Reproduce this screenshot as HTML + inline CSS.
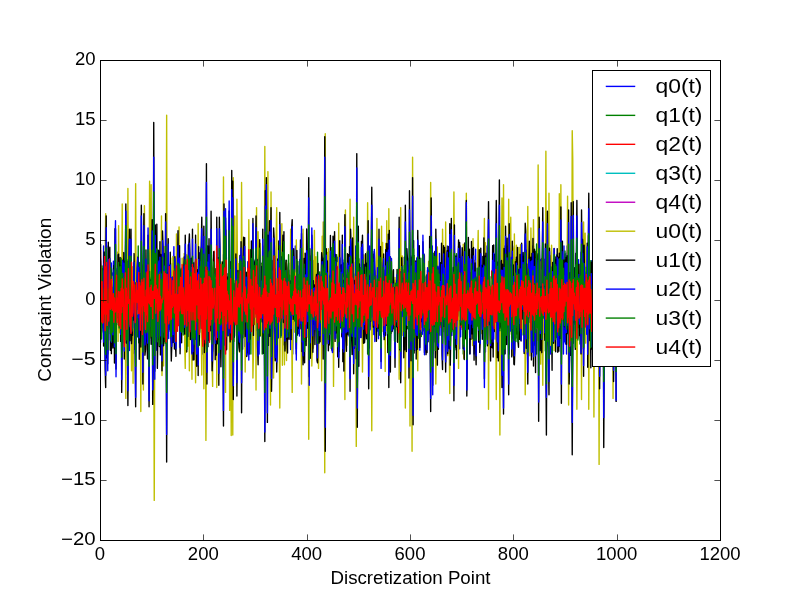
<!DOCTYPE html>
<html><head><meta charset="utf-8"><style>
html,body{margin:0;padding:0;background:#fff;width:800px;height:600px;overflow:hidden}
svg{display:block;will-change:transform}
text{font-family:"Liberation Sans",sans-serif;fill:#000}
</style></head><body>
<svg width="800" height="600" viewBox="0 0 800 600">
<rect width="800" height="600" fill="#fff"/>
<defs><clipPath id="ax"><rect x="100" y="60" width="620" height="480"/></clipPath></defs>
<g clip-path="url(#ax)" fill="none" stroke-width="1.39" stroke-linejoin="round">
<polyline points="100.00,249.13 100.52,342.40 101.03,295.34 101.55,305.41 102.07,291.79 102.58,303.29 103.10,327.92 103.62,246.00 104.13,321.24 104.65,311.80 105.17,295.41 105.68,281.12 106.20,303.40 106.72,309.69 107.23,289.23 107.75,354.00 108.27,246.00 108.78,319.55 109.30,309.72 109.82,304.89 110.33,280.14 110.85,332.61 111.37,263.04 111.88,319.88 112.40,273.07 112.92,344.84 113.43,261.31 113.95,315.10 114.47,313.17 114.98,256.70 115.50,302.51 116.02,336.68 116.53,288.59 117.05,268.44 117.57,324.52 118.08,313.10 118.60,305.88 119.12,296.89 119.63,275.78 120.15,293.84 120.67,323.45 121.18,312.00 121.70,295.87 122.22,318.09 122.73,259.52 123.25,308.54 123.77,280.39 124.28,278.86 124.80,316.46 125.32,331.61 125.83,298.74 126.35,317.66 126.87,314.00 127.38,246.00 127.90,329.31 128.42,332.43 128.93,259.93 129.45,350.54 129.97,266.17 130.48,294.10 131.00,313.82 131.52,297.82 132.03,276.39 132.55,323.75 133.07,269.81 133.58,353.21 134.10,274.99 134.62,261.57 135.13,349.51 135.65,299.76 136.17,281.39 136.68,308.71 137.20,287.37 137.72,286.22 138.23,307.97 138.75,306.41 139.27,310.96 139.78,288.94 140.30,287.14 140.82,332.72 141.33,291.70 141.85,312.69 142.37,279.64 142.88,296.97 143.40,312.78 143.92,310.06 144.43,293.76 144.95,274.20 145.47,322.18 145.98,274.51 146.50,326.16 147.02,302.69 147.53,272.03 148.05,328.58 148.57,264.88 149.08,354.00 149.60,259.86 150.12,309.82 150.63,297.46 151.15,288.01 151.67,340.87 152.18,246.00 152.70,346.63 153.22,247.15 153.73,329.62 154.25,311.15 154.77,332.21 155.28,246.00 155.80,319.37 156.32,290.13 156.83,350.29 157.35,303.85 157.87,274.91 158.38,283.17 158.90,295.10 159.42,292.20 159.93,338.44 160.45,308.63 160.97,261.71 161.48,332.00 162.00,282.59 162.52,261.29 163.03,345.44 163.55,285.25 164.07,302.07 164.58,304.67 165.10,293.05 165.62,297.77 166.13,308.09 166.65,273.20 167.17,310.53 167.68,335.74 168.20,254.97 168.72,323.94 169.23,305.52 169.75,311.24 170.27,271.57 170.78,314.93 171.30,313.67 171.82,300.92 172.33,263.79 172.85,326.80 173.37,301.29 173.88,246.63 174.40,339.77 174.92,294.21 175.43,309.50 175.95,302.89 176.47,317.22 176.98,269.34 177.50,307.72 178.02,320.13 178.53,286.77 179.05,266.16 179.57,326.84 180.08,304.19 180.60,312.51 181.12,298.95 181.63,279.68 182.15,294.19 182.67,311.96 183.18,287.05 183.70,331.59 184.22,292.38 184.73,286.29 185.25,285.37 185.77,329.49 186.28,274.24 186.80,336.73 187.32,260.44 187.83,296.66 188.35,329.12 188.87,287.90 189.38,292.79 189.90,325.63 190.42,295.03 190.93,300.59 191.45,282.23 191.97,293.27 192.48,333.02 193.00,296.70 193.52,275.16 194.03,323.11 194.55,291.99 195.07,281.71 195.58,313.79 196.10,281.96 196.62,317.16 197.13,303.81 197.65,311.16 198.17,326.87 198.68,266.87 199.20,325.98 199.72,252.68 200.23,300.63 200.75,305.52 201.27,287.82 201.78,282.19 202.30,354.00 202.82,271.00 203.33,282.85 203.85,318.96 204.37,297.83 204.88,278.22 205.40,310.30 205.92,334.28 206.43,248.81 206.95,340.99 207.47,281.24 207.98,293.72 208.50,340.60 209.02,246.00 209.53,318.68 210.05,305.08 210.57,292.75 211.08,318.39 211.60,283.17 212.12,300.98 212.63,351.27 213.15,282.07 213.67,261.37 214.18,335.86 214.70,271.33 215.22,313.00 215.73,283.77 216.25,345.08 216.77,265.78 217.28,302.03 217.80,295.12 218.32,300.81 218.83,302.85 219.35,294.72 219.87,297.99 220.38,318.90 220.90,263.94 221.42,325.61 221.93,311.24 222.45,277.04 222.97,338.20 223.48,254.61 224.00,325.59 224.52,292.74 225.03,300.55 225.55,292.10 226.07,320.26 226.58,296.93 227.10,285.32 227.62,317.59 228.13,289.94 228.65,301.74 229.17,304.10 229.68,306.21 230.20,302.46 230.72,292.69 231.23,314.25 231.75,298.63 232.27,246.00 232.78,347.68 233.30,283.95 233.82,311.26 234.33,292.09 234.85,310.62 235.37,284.39 235.88,314.17 236.40,298.49 236.92,326.77 237.43,260.90 237.95,320.94 238.47,296.82 238.98,292.19 239.50,302.89 240.02,304.69 240.53,277.37 241.05,337.56 241.57,320.46 242.08,269.81 242.60,334.09 243.12,263.53 243.63,274.33 244.15,295.05 244.67,346.50 245.18,273.81 245.70,328.33 246.22,272.71 246.73,281.47 247.25,335.23 247.77,261.81 248.28,322.30 248.80,257.99 249.32,354.00 249.83,305.02 250.35,260.81 250.87,307.18 251.38,305.33 251.90,324.21 252.42,283.46 252.93,311.92 253.45,263.24 253.97,316.12 254.48,322.82 255.00,302.92 255.52,311.05 256.03,284.64 256.55,289.76 257.07,292.10 257.58,288.35 258.10,327.59 258.62,269.05 259.13,354.00 259.65,265.73 260.17,286.80 260.68,320.45 261.20,286.73 261.72,289.69 262.23,324.41 262.75,286.42 263.27,283.90 263.78,340.96 264.30,258.80 264.82,322.04 265.33,323.66 265.85,267.44 266.37,294.65 266.88,315.04 267.40,290.70 267.92,297.36 268.43,307.48 268.95,298.68 269.47,287.37 269.98,301.20 270.50,313.81 271.02,332.70 271.53,289.98 272.05,283.93 272.57,272.82 273.08,311.46 273.60,277.27 274.12,323.32 274.63,300.68 275.15,313.26 275.67,272.49 276.18,345.88 276.70,269.74 277.22,308.67 277.73,306.85 278.25,273.77 278.77,304.86 279.28,304.84 279.80,312.75 280.32,320.19 280.83,298.11 281.35,321.33 281.87,278.83 282.38,270.56 282.90,280.61 283.42,344.78 283.93,258.12 284.45,288.25 284.97,314.04 285.48,289.24 286.00,330.86 286.52,308.24 287.03,286.21 287.55,287.58 288.07,308.91 288.58,304.86 289.10,288.96 289.62,329.96 290.13,270.20 290.65,349.55 291.17,246.00 291.68,300.55 292.20,283.01 292.72,354.00 293.23,294.02 293.75,308.27 294.27,307.68 294.78,315.64 295.30,246.00 295.82,318.11 296.33,298.47 296.85,329.82 297.37,265.10 297.88,266.24 298.40,333.55 298.92,287.80 299.43,336.07 299.95,259.55 300.47,319.98 300.98,297.29 301.50,295.61 302.02,310.98 302.53,283.21 303.05,314.25 303.57,305.85 304.08,311.60 304.60,301.42 305.12,263.64 305.63,295.96 306.15,321.33 306.67,301.53 307.18,306.91 307.70,286.37 308.22,278.07 308.73,320.36 309.25,314.49 309.77,271.18 310.28,305.37 310.80,345.86 311.32,276.20 311.83,269.04 312.35,315.34 312.87,308.10 313.38,291.36 313.90,328.67 314.42,299.89 314.93,281.06 315.45,295.72 315.97,272.93 316.48,331.13 317.00,292.52 317.52,277.53 318.03,338.68 318.55,294.20 319.07,294.38 319.58,295.77 320.10,301.92 320.62,290.32 321.13,334.32 321.65,302.29 322.17,277.79 322.68,327.88 323.20,246.00 323.72,343.04 324.23,296.04 324.75,278.98 325.27,305.06 325.78,295.60 326.30,310.85 326.82,323.29 327.33,279.27 327.85,309.10 328.37,318.50 328.88,275.07 329.40,277.50 329.92,334.03 330.43,296.64 330.95,300.40 331.47,272.78 331.98,350.62 332.50,254.66 333.02,306.62 333.53,303.71 334.05,315.11 334.57,287.95 335.08,260.41 335.60,330.97 336.12,311.20 336.63,277.77 337.15,337.62 337.67,257.18 338.18,322.20 338.70,252.57 339.22,305.30 339.73,329.38 340.25,302.88 340.77,315.08 341.28,282.26 341.80,297.31 342.32,337.87 342.83,302.66 343.35,262.98 343.87,320.14 344.38,286.89 344.90,300.81 345.42,299.23 345.93,307.36 346.45,284.48 346.97,285.18 347.48,296.60 348.00,336.01 348.52,291.39 349.03,300.60 349.55,328.63 350.07,301.01 350.58,274.30 351.10,289.48 351.62,294.45 352.13,325.86 352.65,276.46 353.17,313.93 353.68,305.87 354.20,274.25 354.72,348.41 355.23,311.11 355.75,246.00 356.27,335.60 356.78,285.07 357.30,316.01 357.82,310.70 358.33,308.33 358.85,311.76 359.37,263.90 359.88,322.47 360.40,283.18 360.92,292.84 361.43,306.32 361.95,297.19 362.47,274.79 362.98,321.61 363.50,300.80 364.02,307.39 364.53,271.03 365.05,302.77 365.57,333.76 366.08,282.43 366.60,309.46 367.12,305.41 367.63,308.36 368.15,251.22 368.67,322.52 369.18,348.10 369.70,246.00 370.22,287.21 370.73,329.69 371.25,303.23 371.77,296.13 372.28,285.97 372.80,326.75 373.32,282.82 373.83,334.45 374.35,251.72 374.87,341.53 375.38,286.44 375.90,285.91 376.42,289.11 376.93,331.24 377.45,299.35 377.97,260.54 378.48,338.68 379.00,303.38 379.52,294.41 380.03,278.55 380.55,299.61 381.07,294.41 381.58,310.52 382.10,315.18 382.62,284.35 383.13,294.48 383.65,334.45 384.17,290.36 384.68,289.32 385.20,270.01 385.72,335.12 386.23,293.23 386.75,300.36 387.27,294.06 387.78,295.03 388.30,330.06 388.82,332.88 389.33,246.00 389.85,351.94 390.37,256.59 390.88,297.99 391.40,294.70 391.92,331.61 392.43,275.18 392.95,293.77 393.47,299.66 393.98,290.01 394.50,340.53 395.02,291.44 395.53,295.53 396.05,295.86 396.57,280.71 397.08,303.41 397.60,313.08 398.12,270.25 398.63,320.65 399.15,331.82 399.67,255.70 400.18,346.92 400.70,299.45 401.22,284.68 401.73,301.00 402.25,293.51 402.77,297.96 403.28,314.42 403.80,299.07 404.32,274.55 404.83,306.84 405.35,309.44 405.87,310.65 406.38,284.76 406.90,318.39 407.42,305.63 407.93,258.20 408.45,305.74 408.97,318.64 409.48,264.85 410.00,330.76 410.52,286.27 411.03,302.85 411.55,306.71 412.07,299.73 412.58,274.64 413.10,311.02 413.62,350.10 414.13,255.62 414.65,350.52 415.17,278.90 415.68,273.20 416.20,327.62 416.72,257.89 417.23,329.03 417.75,282.70 418.27,305.33 418.78,290.86 419.30,290.63 419.82,350.14 420.33,274.60 420.85,295.41 421.37,284.80 421.88,308.83 422.40,314.91 422.92,319.69 423.43,304.33 423.95,287.60 424.47,280.21 424.98,300.41 425.50,276.83 426.02,320.70 426.53,291.25 427.05,339.18 427.57,270.44 428.08,313.55 428.60,301.71 429.12,266.76 429.63,322.76 430.15,301.23 430.67,298.48 431.18,324.48 431.70,304.95 432.22,246.00 432.73,333.34 433.25,301.18 433.77,295.82 434.28,312.24 434.80,296.89 435.32,310.54 435.83,278.34 436.35,308.88 436.87,278.50 437.38,290.58 437.90,347.44 438.42,268.38 438.93,319.77 439.45,253.43 439.97,335.33 440.48,286.08 441.00,326.50 441.52,268.38 442.03,336.08 442.55,309.23 443.07,321.67 443.58,256.88 444.10,306.38 444.62,289.51 445.13,319.82 445.65,284.02 446.17,300.14 446.68,319.11 447.20,246.00 447.72,294.57 448.23,334.96 448.75,295.10 449.27,297.91 449.78,298.80 450.30,327.43 450.82,280.35 451.33,272.63 451.85,335.56 452.37,301.49 452.88,311.88 453.40,291.06 453.92,331.64 454.43,261.40 454.95,279.79 455.47,313.49 455.98,302.84 456.50,301.93 457.02,299.93 457.53,320.11 458.05,315.10 458.57,246.00 459.08,324.30 459.60,348.86 460.12,246.00 460.63,336.73 461.15,274.87 461.67,319.68 462.18,309.60 462.70,273.06 463.22,321.54 463.73,338.44 464.25,246.00 464.77,311.75 465.28,299.70 465.80,304.56 466.32,286.51 466.83,280.29 467.35,309.12 467.87,312.62 468.38,303.84 468.90,315.20 469.42,254.15 469.93,354.00 470.45,282.83 470.97,284.87 471.48,294.52 472.00,297.51 472.52,312.30 473.03,258.13 473.55,311.86 474.07,354.00 474.58,283.20 475.10,307.50 475.62,249.28 476.13,333.81 476.65,320.42 477.17,276.98 477.68,318.39 478.20,275.44 478.72,288.18 479.23,333.48 479.75,274.90 480.27,298.47 480.78,318.78 481.30,278.01 481.82,320.84 482.33,276.02 482.85,314.47 483.37,305.60 483.88,266.11 484.40,307.74 484.92,323.54 485.43,351.94 485.95,246.00 486.47,314.11 486.98,283.59 487.50,307.32 488.02,305.40 488.53,301.20 489.05,268.01 489.57,298.33 490.08,303.54 490.60,344.64 491.12,286.16 491.63,290.15 492.15,338.66 492.67,246.00 493.18,339.46 493.70,261.97 494.22,328.30 494.73,282.60 495.25,339.16 495.77,314.63 496.28,267.87 496.80,311.52 497.32,299.18 497.83,284.76 498.35,286.23 498.87,290.42 499.38,332.11 499.90,310.28 500.42,274.93 500.93,318.10 501.45,302.74 501.97,286.13 502.48,271.27 503.00,315.38 503.52,343.56 504.03,246.00 504.55,354.00 505.07,272.71 505.58,317.53 506.10,267.53 506.62,310.11 507.13,285.60 507.65,317.62 508.17,306.94 508.68,274.94 509.20,354.00 509.72,288.43 510.23,303.11 510.75,276.54 511.27,305.80 511.78,306.63 512.30,271.09 512.82,303.49 513.33,318.50 513.85,317.13 514.37,246.00 514.88,333.23 515.40,316.57 515.92,286.33 516.43,296.39 516.95,318.14 517.47,274.22 517.98,311.29 518.50,311.15 519.02,270.28 519.53,328.64 520.05,268.09 520.57,321.13 521.08,307.08 521.60,273.72 522.12,328.37 522.63,283.02 523.15,285.38 523.67,331.45 524.18,304.22 524.70,274.81 525.22,295.92 525.73,354.00 526.25,250.24 526.77,288.59 527.28,330.84 527.80,271.45 528.32,324.28 528.83,305.96 529.35,293.88 529.87,280.62 530.38,320.32 530.90,303.32 531.42,289.32 531.93,285.85 532.45,352.16 532.97,246.00 533.48,294.16 534.00,345.30 534.52,282.17 535.03,290.47 535.55,306.27 536.07,267.53 536.58,331.83 537.10,312.85 537.62,297.11 538.13,286.43 538.65,320.00 539.17,297.33 539.68,298.55 540.20,259.40 540.72,319.21 541.23,333.07 541.75,269.36 542.27,354.00 542.78,251.08 543.30,288.56 543.82,304.79 544.33,296.35 544.85,305.99 545.37,316.12 545.88,291.44 546.40,300.67 546.92,322.37 547.43,271.79 547.95,319.20 548.47,270.09 548.98,270.10 549.50,302.28 550.02,290.82 550.53,354.00 551.05,300.59 551.57,280.00 552.08,328.39 552.60,271.75 553.12,321.98 553.63,283.70 554.15,313.17 554.67,263.80 555.18,307.70 555.70,306.26 556.22,337.56 556.73,254.95 557.25,329.69 557.77,317.26 558.28,269.53 558.80,286.41 559.32,346.58 559.83,258.33 560.35,318.45 560.87,299.37 561.38,287.27 561.90,315.23 562.42,306.14 562.93,267.78 563.45,354.00 563.97,246.00 564.48,341.93 565.00,254.09 565.52,343.98 566.03,253.11 566.55,354.00 567.07,246.00 567.58,330.02 568.10,306.56 568.62,301.85 569.13,275.46 569.65,321.96 570.17,285.47 570.68,308.42 571.20,322.91 571.72,248.96 572.23,333.89 572.75,291.56 573.27,300.63 573.78,304.37 574.30,269.23 574.82,324.14 575.33,312.01 575.85,293.63 576.37,307.18 576.88,314.72 577.40,259.12 577.92,338.25 578.43,259.77 578.95,320.69 579.47,286.61 579.98,315.50 580.50,305.15 581.02,252.28 581.53,349.07 582.05,310.17 582.57,275.01 583.08,282.38 583.60,348.94 584.12,286.39 584.63,274.51 585.15,298.52 585.67,306.78 586.18,318.05 586.70,288.35 587.22,316.60 587.73,278.96 588.25,308.22 588.77,295.00 589.28,309.05 589.80,283.23 590.32,311.94 590.83,314.61 591.35,260.59 591.87,321.54 592.38,309.32 592.90,298.06 593.42,269.89 593.93,325.55 594.45,296.18 594.97,320.27 595.48,291.55 596.00,304.43 596.52,304.94 597.03,303.88 597.55,287.14 598.07,317.37 598.58,265.36 599.10,297.51 599.62,330.28 600.13,276.59 600.65,320.36 601.17,281.66 601.68,297.98 602.20,338.26 602.72,314.32 603.23,247.12 603.75,299.99 604.27,309.36 604.78,309.56 605.30,303.11 605.82,333.76 606.33,246.00 606.85,354.00 607.37,255.60 607.88,308.05 608.40,290.70 608.92,327.85 609.43,292.97 609.95,276.96 610.47,328.31 610.98,278.34 611.50,325.25 612.02,273.21 612.53,294.68 613.05,308.03 613.57,290.83 614.08,330.59 614.60,288.81 615.12,296.81 615.63,268.34 616.15,335.73" stroke="#0000ff"/>
<polyline points="100.00,281.56 100.52,315.71 101.03,289.05 101.55,330.43 102.07,268.39 102.58,315.33 103.10,292.19 103.62,297.19 104.13,340.46 104.65,252.88 105.17,324.08 105.68,275.66 106.20,322.10 106.72,292.52 107.23,327.41 107.75,293.87 108.27,265.94 108.78,329.13 109.30,283.16 109.82,304.96 110.33,316.53 110.85,285.96 111.37,298.91 111.88,288.30 112.40,315.62 112.92,303.18 113.43,268.80 113.95,299.34 114.47,320.96 114.98,316.71 115.50,277.97 116.02,314.28 116.53,270.11 117.05,322.38 117.57,309.49 118.08,294.82 118.60,309.77 119.12,286.45 119.63,318.84 120.15,276.90 120.67,290.49 121.18,305.34 121.70,321.74 122.22,279.78 122.73,312.34 123.25,315.94 123.77,279.38 124.28,285.24 124.80,310.04 125.32,308.63 125.83,304.81 126.35,290.86 126.87,292.08 127.38,304.53 127.90,284.63 128.42,305.47 128.93,297.13 129.45,319.63 129.97,288.65 130.48,306.22 131.00,294.41 131.52,301.39 132.03,266.91 132.55,354.00 133.07,276.63 133.58,313.10 134.10,286.26 134.62,302.23 135.13,280.41 135.65,325.67 136.17,308.15 136.68,284.55 137.20,300.69 137.72,336.93 138.23,246.00 138.75,342.70 139.27,262.49 139.78,304.63 140.30,297.69 140.82,317.90 141.33,315.54 141.85,298.99 142.37,269.36 142.88,326.14 143.40,286.66 143.92,311.67 144.43,303.13 144.95,276.74 145.47,328.69 145.98,288.90 146.50,301.28 147.02,293.39 147.53,303.85 148.05,314.03 148.57,290.65 149.08,298.69 149.60,264.95 150.12,318.08 150.63,313.42 151.15,295.86 151.67,306.85 152.18,270.46 152.70,328.05 153.22,312.09 153.73,246.00 154.25,354.00 154.77,296.79 155.28,306.13 155.80,278.66 156.32,316.83 156.83,301.46 157.35,273.01 157.87,292.98 158.38,317.20 158.90,321.02 159.42,276.19 159.93,317.17 160.45,285.92 160.97,299.96 161.48,322.45 162.00,268.55 162.52,313.45 163.03,300.85 163.55,315.55 164.07,269.26 164.58,325.06 165.10,287.84 165.62,317.01 166.13,303.51 166.65,300.07 167.17,306.18 167.68,281.08 168.20,273.58 168.72,303.85 169.23,329.77 169.75,298.90 170.27,264.29 170.78,311.61 171.30,311.77 171.82,305.99 172.33,300.31 172.85,329.83 173.37,273.86 173.88,258.32 174.40,307.68 174.92,328.55 175.43,283.63 175.95,303.08 176.47,317.88 176.98,304.92 177.50,295.23 178.02,288.37 178.53,282.59 179.05,316.38 179.57,303.61 180.08,304.04 180.60,276.85 181.12,293.96 181.63,321.47 182.15,307.29 182.67,291.65 183.18,295.81 183.70,290.82 184.22,303.24 184.73,326.76 185.25,289.76 185.77,304.61 186.28,283.93 186.80,326.68 187.32,310.53 187.83,271.59 188.35,308.57 188.87,299.26 189.38,295.17 189.90,311.97 190.42,284.99 190.93,318.49 191.45,300.63 191.97,274.03 192.48,312.93 193.00,278.23 193.52,312.62 194.03,315.16 194.55,297.63 195.07,307.21 195.58,284.61 196.10,291.79 196.62,308.24 197.13,296.63 197.65,317.79 198.17,266.65 198.68,310.00 199.20,293.83 199.72,332.27 200.23,285.93 200.75,308.23 201.27,264.93 201.78,326.61 202.30,263.00 202.82,327.38 203.33,315.41 203.85,272.66 204.37,292.38 204.88,328.78 205.40,306.11 205.92,292.11 206.43,317.04 206.95,298.14 207.47,316.61 207.98,276.24 208.50,310.78 209.02,278.11 209.53,298.15 210.05,288.84 210.57,311.56 211.08,307.33 211.60,277.29 212.12,329.83 212.63,321.47 213.15,288.52 213.67,285.98 214.18,285.29 214.70,293.10 215.22,330.27 215.73,268.75 216.25,310.32 216.77,296.19 217.28,324.79 217.80,288.35 218.32,328.62 218.83,266.48 219.35,307.07 219.87,283.79 220.38,293.68 220.90,330.47 221.42,272.64 221.93,297.48 222.45,320.27 222.97,267.62 223.48,339.89 224.00,309.75 224.52,278.15 225.03,274.33 225.55,317.92 226.07,334.05 226.58,281.70 227.10,273.74 227.62,329.37 228.13,291.42 228.65,313.07 229.17,254.92 229.68,303.97 230.20,344.95 230.72,307.73 231.23,264.41 231.75,301.85 232.27,306.36 232.78,298.28 233.30,306.15 233.82,281.61 234.33,300.75 234.85,293.54 235.37,306.09 235.88,321.71 236.40,298.09 236.92,297.62 237.43,294.18 237.95,312.05 238.47,302.19 238.98,291.25 239.50,303.08 240.02,295.20 240.53,273.88 241.05,304.21 241.57,327.48 242.08,291.06 242.60,305.94 243.12,308.51 243.63,279.18 244.15,337.77 244.67,267.58 245.18,307.99 245.70,314.26 246.22,274.19 246.73,292.79 247.25,310.89 247.77,297.36 248.28,319.98 248.80,279.97 249.32,284.25 249.83,339.35 250.35,249.71 250.87,354.00 251.38,259.66 251.90,322.63 252.42,287.65 252.93,303.55 253.45,299.55 253.97,285.01 254.48,319.51 255.00,292.53 255.52,285.36 256.03,319.68 256.55,330.43 257.07,275.80 257.58,300.45 258.10,304.86 258.62,276.97 259.13,308.13 259.65,313.33 260.17,296.70 260.68,313.16 261.20,286.36 261.72,263.26 262.23,354.00 262.75,246.00 263.27,329.58 263.78,302.41 264.30,305.43 264.82,310.27 265.33,271.73 265.85,314.39 266.37,305.25 266.88,290.87 267.40,275.62 267.92,330.54 268.43,295.38 268.95,277.09 269.47,336.03 269.98,271.48 270.50,275.90 271.02,337.24 271.53,324.87 272.05,260.39 272.57,319.29 273.08,274.98 273.60,312.23 274.12,303.52 274.63,317.65 275.15,268.70 275.67,310.81 276.18,300.06 276.70,299.65 277.22,300.02 277.73,303.60 278.25,304.33 278.77,323.67 279.28,283.83 279.80,296.59 280.32,277.82 280.83,300.51 281.35,330.94 281.87,292.83 282.38,301.61 282.90,285.93 283.42,300.39 283.93,295.09 284.45,319.13 284.97,295.08 285.48,263.26 286.00,348.69 286.52,260.46 287.03,310.31 287.55,297.35 288.07,312.36 288.58,301.69 289.10,288.28 289.62,314.01 290.13,298.41 290.65,303.36 291.17,289.67 291.68,307.53 292.20,303.28 292.72,286.27 293.23,306.11 293.75,322.60 294.27,281.23 294.78,278.12 295.30,314.84 295.82,282.99 296.33,348.68 296.85,268.80 297.37,335.26 297.88,261.34 298.40,319.13 298.92,292.69 299.43,290.83 299.95,319.42 300.47,297.94 300.98,295.33 301.50,282.97 302.02,290.76 302.53,332.08 303.05,302.42 303.57,285.34 304.08,319.00 304.60,302.63 305.12,271.60 305.63,315.58 306.15,268.75 306.67,337.33 307.18,263.58 307.70,304.05 308.22,323.23 308.73,292.03 309.25,343.62 309.77,255.64 310.28,302.98 310.80,313.14 311.32,267.24 311.83,354.00 312.35,253.45 312.87,309.77 313.38,297.82 313.90,325.73 314.42,267.71 314.93,317.56 315.45,289.64 315.97,288.61 316.48,326.82 317.00,329.74 317.52,252.14 318.03,301.59 318.55,307.08 319.07,306.03 319.58,304.09 320.10,284.15 320.62,292.90 321.13,315.48 321.65,273.56 322.17,322.88 322.68,286.53 323.20,312.26 323.72,297.40 324.23,284.91 324.75,304.56 325.27,291.87 325.78,300.92 326.30,316.18 326.82,289.23 327.33,303.63 327.85,300.30 328.37,294.96 328.88,310.61 329.40,299.11 329.92,294.56 330.43,321.97 330.95,273.13 331.47,297.69 331.98,345.84 332.50,257.90 333.02,322.01 333.53,301.72 334.05,277.85 334.57,323.67 335.08,282.96 335.60,313.33 336.12,308.62 336.63,254.64 337.15,338.71 337.67,306.59 338.18,287.35 338.70,267.32 339.22,351.62 339.73,258.59 340.25,328.07 340.77,285.68 341.28,304.26 341.80,283.33 342.32,327.20 342.83,260.05 343.35,334.25 343.87,315.35 344.38,275.84 344.90,290.68 345.42,301.84 345.93,295.82 346.45,317.60 346.97,274.88 347.48,308.87 348.00,326.92 348.52,292.07 349.03,304.89 349.55,293.21 350.07,292.36 350.58,310.20 351.10,295.68 351.62,286.17 352.13,298.41 352.65,290.89 353.17,354.00 353.68,262.18 354.20,301.02 354.72,297.48 355.23,305.39 355.75,300.48 356.27,274.99 356.78,291.45 357.30,335.93 357.82,272.33 358.33,344.30 358.85,258.78 359.37,282.72 359.88,311.12 360.40,326.78 360.92,300.70 361.43,291.51 361.95,275.93 362.47,314.01 362.98,302.27 363.50,295.40 364.02,324.14 364.53,316.54 365.05,276.15 365.57,298.65 366.08,288.09 366.60,303.65 367.12,252.00 367.63,354.00 368.15,301.88 368.67,269.99 369.18,320.58 369.70,270.99 370.22,300.49 370.73,316.09 371.25,301.21 371.77,335.31 372.28,256.14 372.80,316.89 373.32,293.38 373.83,294.58 374.35,312.78 374.87,316.76 375.38,293.20 375.90,307.43 376.42,270.41 376.93,314.77 377.45,298.55 377.97,308.33 378.48,294.73 379.00,315.77 379.52,280.58 380.03,318.41 380.55,279.26 381.07,308.12 381.58,289.33 382.10,290.24 382.62,309.43 383.13,304.71 383.65,289.28 384.17,321.34 384.68,292.32 385.20,292.94 385.72,327.87 386.23,288.65 386.75,258.12 387.27,328.12 387.78,300.49 388.30,294.00 388.82,311.49 389.33,303.86 389.85,298.03 390.37,279.53 390.88,291.07 391.40,333.21 391.92,293.41 392.43,291.29 392.95,324.16 393.47,281.55 393.98,284.96 394.50,298.78 395.02,280.30 395.53,341.70 396.05,294.86 396.57,286.62 397.08,308.59 397.60,287.35 398.12,317.07 398.63,326.48 399.15,286.32 399.67,313.32 400.18,272.01 400.70,283.08 401.22,310.74 401.73,315.97 402.25,323.28 402.77,269.88 403.28,310.19 403.80,299.61 404.32,290.05 404.83,264.31 405.35,342.56 405.87,304.81 406.38,310.85 406.90,263.92 407.42,328.72 407.93,314.36 408.45,278.86 408.97,288.25 409.48,323.51 410.00,282.03 410.52,324.47 411.03,255.85 411.55,337.10 412.07,282.81 412.58,313.73 413.10,293.82 413.62,286.74 414.13,313.87 414.65,292.54 415.17,280.12 415.68,278.84 416.20,326.49 416.72,312.18 417.23,297.06 417.75,322.63 418.27,297.55 418.78,300.29 419.30,276.60 419.82,308.27 420.33,303.64 420.85,258.31 421.37,336.50 421.88,287.00 422.40,305.70 422.92,306.44 423.43,293.01 423.95,330.87 424.47,275.15 424.98,285.92 425.50,290.03 426.02,328.93 426.53,275.04 427.05,308.92 427.57,318.39 428.08,318.76 428.60,270.81 429.12,314.54 429.63,272.22 430.15,311.87 430.67,328.55 431.18,284.51 431.70,287.09 432.22,285.99 432.73,354.00 433.25,253.11 433.77,327.79 434.28,283.75 434.80,309.86 435.32,272.18 435.83,309.13 436.35,278.01 436.87,307.36 437.38,330.98 437.90,322.90 438.42,269.76 438.93,304.74 439.45,289.79 439.97,313.01 440.48,298.70 441.00,278.36 441.52,307.93 442.03,314.37 442.55,283.06 443.07,320.08 443.58,285.90 444.10,285.70 444.62,322.27 445.13,313.28 445.65,276.89 446.17,308.40 446.68,266.59 447.20,329.27 447.72,308.10 448.23,308.57 448.75,316.53 449.27,278.18 449.78,286.34 450.30,315.09 450.82,277.98 451.33,293.83 451.85,303.27 452.37,320.84 452.88,301.99 453.40,274.87 453.92,323.02 454.43,299.56 454.95,298.95 455.47,270.71 455.98,349.73 456.50,253.69 457.02,303.45 457.53,289.27 458.05,317.28 458.57,272.44 459.08,322.88 459.60,325.31 460.12,308.62 460.63,277.38 461.15,293.43 461.67,302.39 462.18,289.17 462.70,297.95 463.22,354.00 463.73,262.48 464.25,299.85 464.77,290.73 465.28,321.54 465.80,269.56 466.32,317.06 466.83,280.45 467.35,330.32 467.87,292.16 468.38,318.43 468.90,294.25 469.42,290.25 469.93,303.70 470.45,286.62 470.97,298.05 471.48,306.89 472.00,299.76 472.52,317.46 473.03,289.43 473.55,296.90 474.07,307.80 474.58,276.99 475.10,303.16 475.62,321.29 476.13,294.52 476.65,294.08 477.17,297.61 477.68,278.44 478.20,326.22 478.72,306.33 479.23,285.16 479.75,295.73 480.27,291.20 480.78,333.78 481.30,289.04 481.82,292.77 482.33,300.62 482.85,326.50 483.37,270.09 483.88,283.89 484.40,312.77 484.92,311.78 485.43,313.77 485.95,299.27 486.47,285.32 486.98,311.15 487.50,299.94 488.02,313.69 488.53,267.99 489.05,293.90 489.57,314.12 490.08,289.57 490.60,307.49 491.12,276.61 491.63,326.70 492.15,298.85 492.67,318.15 493.18,282.42 493.70,305.34 494.22,301.39 494.73,269.32 495.25,311.29 495.77,296.10 496.28,310.86 496.80,318.92 497.32,285.26 497.83,284.73 498.35,328.83 498.87,289.66 499.38,297.56 499.90,283.91 500.42,315.19 500.93,289.17 501.45,301.33 501.97,314.02 502.48,292.64 503.00,322.51 503.52,288.08 504.03,283.95 504.55,302.05 505.07,300.67 505.58,304.78 506.10,287.67 506.62,303.01 507.13,308.48 507.65,325.67 508.17,246.00 508.68,311.04 509.20,348.05 509.72,263.79 510.23,327.12 510.75,277.68 511.27,331.63 511.78,287.14 512.30,306.84 512.82,281.36 513.33,297.44 513.85,312.11 514.37,337.10 514.88,263.58 515.40,317.66 515.92,259.47 516.43,331.84 516.95,325.27 517.47,269.12 517.98,318.40 518.50,272.49 519.02,326.38 519.53,274.52 520.05,331.61 520.57,256.56 521.08,318.90 521.60,288.13 522.12,314.75 522.63,264.89 523.15,335.00 523.67,286.60 524.18,311.90 524.70,279.41 525.22,341.39 525.73,302.15 526.25,267.52 526.77,319.62 527.28,304.00 527.80,277.46 528.32,307.58 528.83,338.31 529.35,259.93 529.87,310.20 530.38,308.03 530.90,271.89 531.42,302.75 531.93,287.42 532.45,329.77 532.97,306.33 533.48,246.00 534.00,326.72 534.52,302.25 535.03,324.94 535.55,293.25 536.07,280.72 536.58,354.00 537.10,273.83 537.62,275.30 538.13,334.19 538.65,259.46 539.17,314.65 539.68,323.35 540.20,273.64 540.72,299.38 541.23,301.89 541.75,289.49 542.27,333.85 542.78,283.78 543.30,283.86 543.82,303.78 544.33,300.52 544.85,259.12 545.37,350.91 545.88,302.72 546.40,280.78 546.92,313.14 547.43,282.24 547.95,317.34 548.47,269.54 548.98,337.84 549.50,293.53 550.02,282.05 550.53,312.68 551.05,286.62 551.57,302.16 552.08,298.13 552.60,333.27 553.12,266.32 553.63,312.80 554.15,295.85 554.67,318.24 555.18,278.65 555.70,294.83 556.22,306.97 556.73,297.64 557.25,305.29 557.77,305.68 558.28,289.14 558.80,310.44 559.32,299.15 559.83,290.74 560.35,291.88 560.87,288.12 561.38,309.39 561.90,316.27 562.42,313.70 562.93,282.39 563.45,320.83 563.97,299.93 564.48,314.11 565.00,251.03 565.52,301.53 566.03,334.53 566.55,281.36 567.07,296.09 567.58,281.66 568.10,301.66 568.62,336.10 569.13,281.09 569.65,329.55 570.17,277.33 570.68,297.50 571.20,305.21 571.72,313.24 572.23,287.75 572.75,261.22 573.27,343.20 573.78,290.04 574.30,285.30 574.82,301.77 575.33,318.75 575.85,271.59 576.37,300.32 576.88,318.90 577.40,298.44 577.92,306.36 578.43,289.67 578.95,304.06 579.47,286.74 579.98,344.05 580.50,259.14 581.02,316.50 581.53,275.53 582.05,304.05 582.57,320.89 583.08,297.90 583.60,307.03 584.12,308.47 584.63,287.49 585.15,284.54 585.67,316.10 586.18,316.91 586.70,279.96 587.22,316.39 587.73,282.69 588.25,290.31 588.77,295.92 589.28,296.78 589.80,330.68 590.32,327.25 590.83,260.63 591.35,303.15 591.87,284.86 592.38,301.00 592.90,315.05 593.42,294.64 593.93,287.54 594.45,323.92 594.97,323.33 595.48,261.02 596.00,303.02 596.52,310.39 597.03,272.05 597.55,321.95 598.07,309.41 598.58,284.98 599.10,276.38 599.62,344.22 600.13,269.97 600.65,333.03 601.17,269.14 601.68,318.44 602.20,299.09 602.72,282.64 603.23,271.64 603.75,354.00 604.27,276.16 604.78,309.14 605.30,269.02 605.82,317.18 606.33,314.84 606.85,272.98 607.37,303.12 607.88,312.03 608.40,285.51 608.92,307.32 609.43,290.62 609.95,331.75 610.47,273.04 610.98,295.42 611.50,328.10 612.02,246.00 612.53,331.15 613.05,319.82 613.57,312.76 614.08,295.01 614.60,296.65 615.12,292.42 615.63,327.82 616.15,296.89" stroke="#008000"/>
<polyline points="100.00,328.55 100.52,263.91 101.03,323.17 101.55,314.10 102.07,293.96 102.58,272.22 103.10,315.74 103.62,313.60 104.13,275.08 104.65,308.26 105.17,312.37 105.68,305.28 106.20,304.56 106.72,282.90 107.23,294.86 107.75,289.17 108.27,299.49 108.78,305.88 109.30,326.67 109.82,290.43 110.33,287.92 110.85,308.48 111.37,295.97 111.88,305.99 112.40,295.20 112.92,289.08 113.43,305.36 113.95,321.10 114.47,289.43 114.98,307.55 115.50,305.22 116.02,271.73 116.53,310.86 117.05,273.21 117.57,319.16 118.08,301.67 118.60,311.10 119.12,302.37 119.63,283.68 120.15,313.86 120.67,277.54 121.18,306.23 121.70,300.02 122.22,308.44 122.73,312.06 123.25,276.81 123.77,319.31 124.28,293.74 124.80,291.41 125.32,312.41 125.83,300.86 126.35,309.76 126.87,273.70 127.38,293.01 127.90,327.91 128.42,278.06 128.93,291.51 129.45,301.60 129.97,307.82 130.48,318.49 131.00,308.54 131.52,291.62 132.03,286.96 132.55,290.09 133.07,300.95 133.58,315.47 134.10,293.86 134.62,309.35 135.13,314.95 135.65,287.56 136.17,281.25 136.68,302.98 137.20,307.27 137.72,300.94 138.23,274.83 138.75,320.31 139.27,308.27 139.78,312.15 140.30,291.61 140.82,288.77 141.33,310.10 141.85,289.00 142.37,310.65 142.88,265.06 143.40,334.17 143.92,285.50 144.43,318.12 144.95,288.66 145.47,293.60 145.98,307.33 146.50,320.94 147.02,265.59 147.53,308.46 148.05,317.66 148.57,295.26 149.08,288.13 149.60,315.79 150.12,284.49 150.63,320.83 151.15,285.00 151.67,292.49 152.18,313.51 152.70,293.89 153.22,297.33 153.73,288.33 154.25,302.66 154.77,310.76 155.28,299.48 155.80,307.13 156.32,300.30 156.83,300.85 157.35,301.21 157.87,284.61 158.38,312.28 158.90,306.63 159.42,299.81 159.93,292.19 160.45,293.91 160.97,311.35 161.48,304.81 162.00,286.88 162.52,291.65 163.03,321.61 163.55,293.65 164.07,316.00 164.58,252.84 165.10,337.92 165.62,301.79 166.13,284.17 166.65,306.46 167.17,287.83 167.68,317.61 168.20,289.61 168.72,298.85 169.23,296.49 169.75,285.43 170.27,320.75 170.78,308.72 171.30,285.98 171.82,312.67 172.33,282.05 172.85,307.08 173.37,301.68 173.88,318.41 174.40,299.65 174.92,289.84 175.43,294.07 175.95,322.02 176.47,282.80 176.98,292.30 177.50,309.09 178.02,283.17 178.53,307.40 179.05,285.70 179.57,324.61 180.08,287.43 180.60,334.91 181.12,278.94 181.63,280.80 182.15,314.82 182.67,301.16 183.18,307.70 183.70,268.33 184.22,304.47 184.73,314.20 185.25,295.98 185.77,303.81 186.28,315.13 186.80,281.21 187.32,309.55 187.83,302.71 188.35,279.48 188.87,311.53 189.38,311.55 189.90,282.83 190.42,306.39 190.93,295.85 191.45,305.02 191.97,295.26 192.48,300.34 193.00,312.89 193.52,267.07 194.03,320.30 194.55,329.78 195.07,262.12 195.58,327.01 196.10,279.64 196.62,287.24 197.13,320.22 197.65,297.96 198.17,286.03 198.68,305.97 199.20,300.86 199.72,307.75 200.23,297.61 200.75,321.28 201.27,283.87 201.78,296.88 202.30,291.76 202.82,301.45 203.33,319.64 203.85,294.26 204.37,315.95 204.88,277.53 205.40,282.02 205.92,314.54 206.43,310.36 206.95,290.29 207.47,303.34 207.98,311.59 208.50,296.43 209.02,292.46 209.53,288.89 210.05,315.41 210.57,301.01 211.08,307.82 211.60,285.34 212.12,311.39 212.63,268.55 213.15,318.65 213.67,334.60 214.18,251.25 214.70,312.11 215.22,303.75 215.73,297.58 216.25,308.60 216.77,303.25 217.28,298.23 217.80,293.63 218.32,293.98 218.83,283.12 219.35,316.90 219.87,295.12 220.38,298.24 220.90,319.19 221.42,302.06 221.93,298.74 222.45,273.79 222.97,331.76 223.48,278.69 224.00,315.23 224.52,262.93 225.03,342.72 225.55,298.71 226.07,291.95 226.58,306.81 227.10,279.48 227.62,298.10 228.13,299.52 228.65,287.66 229.17,332.89 229.68,288.02 230.20,305.94 230.72,303.74 231.23,288.16 231.75,279.97 232.27,333.65 232.78,266.07 233.30,320.44 233.82,308.46 234.33,307.73 234.85,277.78 235.37,307.67 235.88,303.32 236.40,305.02 236.92,294.93 237.43,302.41 237.95,294.49 238.47,321.67 238.98,277.12 239.50,291.90 240.02,302.01 240.53,323.52 241.05,284.11 241.57,298.00 242.08,290.61 242.60,302.82 243.12,298.39 243.63,312.83 244.15,290.92 244.67,308.75 245.18,301.99 245.70,313.72 246.22,279.43 246.73,305.80 247.25,314.83 247.77,268.55 248.28,318.67 248.80,291.50 249.32,300.50 249.83,305.81 250.35,295.68 250.87,292.31 251.38,318.43 251.90,306.05 252.42,274.14 252.93,305.54 253.45,313.83 253.97,280.32 254.48,324.56 255.00,285.68 255.52,297.40 256.03,303.55 256.55,295.12 257.07,310.35 257.58,312.35 258.10,288.75 258.62,287.25 259.13,305.72 259.65,300.97 260.17,303.06 260.68,284.51 261.20,317.56 261.72,291.37 262.23,299.85 262.75,313.26 263.27,281.11 263.78,303.88 264.30,298.42 264.82,321.16 265.33,272.44 265.85,317.08 266.37,296.21 266.88,295.22 267.40,294.74 267.92,315.59 268.43,290.62 268.95,303.25 269.47,300.64 269.98,299.88 270.50,310.22 271.02,290.20 271.53,286.52 272.05,323.72 272.57,306.75 273.08,267.24 273.60,330.12 274.12,288.82 274.63,303.17 275.15,290.83 275.67,306.52 276.18,291.02 276.70,310.17 277.22,306.83 277.73,262.16 278.25,324.63 278.77,295.73 279.28,318.93 279.80,294.16 280.32,297.53 280.83,284.16 281.35,319.40 281.87,285.84 282.38,308.62 282.90,303.84 283.42,284.88 283.93,304.56 284.45,314.35 284.97,281.77 285.48,320.91 286.00,280.69 286.52,306.42 287.03,274.80 287.55,318.58 288.07,282.60 288.58,316.64 289.10,310.50 289.62,287.99 290.13,323.71 290.65,297.24 291.17,288.05 291.68,282.37 292.20,306.49 292.72,324.65 293.23,307.52 293.75,274.79 294.27,320.06 294.78,295.30 295.30,294.85 295.82,303.75 296.33,298.58 296.85,293.32 297.37,287.18 297.88,317.42 298.40,292.55 298.92,295.66 299.43,299.42 299.95,306.40 300.47,307.06 300.98,292.74 301.50,315.05 302.02,285.06 302.53,285.60 303.05,307.14 303.57,338.69 304.08,261.73 304.60,299.89 305.12,309.73 305.63,288.86 306.15,300.31 306.67,308.71 307.18,301.14 307.70,309.83 308.22,276.38 308.73,334.96 309.25,272.16 309.77,307.93 310.28,295.35 310.80,305.17 311.32,296.24 311.83,308.71 312.35,300.57 312.87,272.08 313.38,321.52 313.90,281.78 314.42,306.29 314.93,306.10 315.45,298.83 315.97,303.74 316.48,289.28 317.00,311.38 317.52,302.98 318.03,288.72 318.55,307.29 319.07,294.23 319.58,312.41 320.10,293.83 320.62,289.21 321.13,300.05 321.65,321.83 322.17,289.55 322.68,310.27 323.20,280.19 323.72,318.50 324.23,309.13 324.75,293.18 325.27,300.39 325.78,261.94 326.30,331.65 326.82,285.76 327.33,315.88 327.85,287.93 328.37,290.93 328.88,303.34 329.40,295.50 329.92,304.26 330.43,312.42 330.95,292.34 331.47,303.75 331.98,306.79 332.50,271.95 333.02,333.10 333.53,303.24 334.05,292.02 334.57,282.64 335.08,315.93 335.60,293.04 336.12,310.37 336.63,279.39 337.15,309.40 337.67,302.58 338.18,285.74 338.70,324.00 339.22,275.54 339.73,306.47 340.25,321.86 340.77,288.99 341.28,292.92 341.80,316.58 342.32,297.63 342.83,275.94 343.35,285.87 343.87,311.86 344.38,310.88 344.90,305.07 345.42,311.73 345.93,281.26 346.45,313.65 346.97,294.06 347.48,299.02 348.00,292.40 348.52,303.07 349.03,329.10 349.55,283.18 350.07,283.29 350.58,296.60 351.10,305.44 351.62,297.54 352.13,322.34 352.65,288.95 353.17,298.36 353.68,291.11 354.20,308.72 354.72,306.65 355.23,284.33 355.75,309.53 356.27,294.06 356.78,323.94 357.30,281.37 357.82,295.35 358.33,290.47 358.85,314.38 359.37,317.91 359.88,296.71 360.40,274.57 360.92,301.11 361.43,312.91 361.95,306.90 362.47,279.54 362.98,316.99 363.50,295.11 364.02,315.13 364.53,312.18 365.05,269.95 365.57,282.84 366.08,322.69 366.60,309.96 367.12,272.65 367.63,324.75 368.15,311.94 368.67,283.03 369.18,291.28 369.70,312.21 370.22,291.19 370.73,299.84 371.25,299.53 371.77,284.56 372.28,314.05 372.80,295.99 373.32,291.73 373.83,317.65 374.35,287.13 374.87,315.64 375.38,293.10 375.90,301.45 376.42,288.55 376.93,301.07 377.45,316.92 377.97,303.12 378.48,301.48 379.00,298.28 379.52,296.70 380.03,293.67 380.55,308.42 381.07,271.47 381.58,306.30 382.10,290.93 382.62,316.89 383.13,297.81 383.65,309.49 384.17,285.10 384.68,306.65 385.20,306.86 385.72,294.75 386.23,284.32 386.75,302.45 387.27,317.10 387.78,320.96 388.30,309.91 388.82,270.12 389.33,300.05 389.85,299.88 390.37,295.32 390.88,298.46 391.40,314.06 391.92,297.91 392.43,276.63 392.95,293.18 393.47,321.77 393.98,299.99 394.50,292.44 395.02,305.19 395.53,303.06 396.05,300.77 396.57,284.28 397.08,323.07 397.60,286.77 398.12,317.88 398.63,281.87 399.15,302.46 399.67,304.40 400.18,295.17 400.70,322.13 401.22,290.08 401.73,296.31 402.25,294.35 402.77,301.37 403.28,307.15 403.80,291.77 404.32,296.86 404.83,277.19 405.35,324.67 405.87,298.29 406.38,300.33 406.90,306.52 407.42,301.26 407.93,287.27 408.45,310.93 408.97,302.41 409.48,295.01 410.00,282.85 410.52,329.19 411.03,291.71 411.55,292.90 412.07,296.78 412.58,288.61 413.10,296.42 413.62,327.68 414.13,285.34 414.65,287.58 415.17,308.10 415.68,321.18 416.20,297.33 416.72,292.72 417.23,292.02 417.75,319.70 418.27,280.26 418.78,315.74 419.30,286.51 419.82,298.99 420.33,302.78 420.85,294.09 421.37,310.93 421.88,297.81 422.40,288.32 422.92,319.86 423.43,300.50 423.95,308.35 424.47,267.13 424.98,326.12 425.50,282.11 426.02,308.92 426.53,296.21 427.05,308.96 427.57,297.30 428.08,288.25 428.60,309.25 429.12,311.90 429.63,291.11 430.15,312.90 430.67,280.04 431.18,296.28 431.70,306.99 432.22,286.35 432.73,299.63 433.25,318.26 433.77,286.99 434.28,314.04 434.80,295.50 435.32,304.29 435.83,296.54 436.35,313.67 436.87,289.19 437.38,311.51 437.90,270.13 438.42,321.83 438.93,295.35 439.45,315.66 439.97,291.03 440.48,287.00 441.00,327.53 441.52,274.55 442.03,308.46 442.55,272.28 443.07,315.24 443.58,297.57 444.10,306.12 444.62,292.33 445.13,323.11 445.65,269.82 446.17,309.51 446.68,325.08 447.20,279.12 447.72,303.64 448.23,284.47 448.75,318.62 449.27,296.52 449.78,295.78 450.30,306.66 450.82,280.00 451.33,313.01 451.85,311.87 452.37,290.75 452.88,304.53 453.40,279.98 453.92,329.32 454.43,307.66 454.95,258.27 455.47,322.49 455.98,287.54 456.50,311.98 457.02,305.26 457.53,289.12 458.05,304.85 458.57,307.60 459.08,313.54 459.60,276.45 460.12,288.70 460.63,302.23 461.15,327.01 461.67,270.48 462.18,329.53 462.70,290.54 463.22,293.91 463.73,300.16 464.25,309.31 464.77,294.63 465.28,295.33 465.80,300.04 466.32,293.79 466.83,297.55 467.35,308.38 467.87,308.98 468.38,284.51 468.90,308.07 469.42,308.24 469.93,317.12 470.45,272.69 470.97,294.83 471.48,295.89 472.00,321.65 472.52,290.47 473.03,317.81 473.55,279.70 474.07,299.11 474.58,311.75 475.10,285.54 475.62,294.90 476.13,299.52 476.65,320.59 477.17,289.98 477.68,289.20 478.20,312.99 478.72,302.10 479.23,298.68 479.75,287.81 480.27,311.88 480.78,317.53 481.30,272.88 481.82,276.81 482.33,325.32 482.85,290.18 483.37,311.12 483.88,305.85 484.40,308.44 484.92,283.74 485.43,305.46 485.95,290.23 486.47,308.05 486.98,294.61 487.50,328.75 488.02,274.75 488.53,297.00 489.05,303.21 489.57,289.06 490.08,315.24 490.60,292.12 491.12,327.97 491.63,271.04 492.15,300.29 492.67,317.38 493.18,314.11 493.70,287.23 494.22,290.15 494.73,282.33 495.25,329.94 495.77,282.76 496.28,298.22 496.80,300.76 497.32,313.08 497.83,285.79 498.35,321.69 498.87,306.15 499.38,280.26 499.90,308.44 500.42,314.92 500.93,261.71 501.45,305.77 501.97,301.88 502.48,316.36 503.00,297.53 503.52,309.47 504.03,283.29 504.55,302.70 505.07,297.49 505.58,283.95 506.10,321.12 506.62,296.45 507.13,314.00 507.65,267.31 508.17,303.55 508.68,337.89 509.20,299.09 509.72,258.03 510.23,297.15 510.75,313.20 511.27,292.21 511.78,329.50 512.30,285.04 512.82,291.62 513.33,311.08 513.85,308.50 514.37,291.32 514.88,307.70 515.40,269.87 515.92,324.83 516.43,303.45 516.95,313.08 517.47,263.51 517.98,317.88 518.50,291.93 519.02,307.36 519.53,295.79 520.05,302.72 520.57,306.90 521.08,288.25 521.60,314.00 522.12,288.12 522.63,299.00 523.15,295.30 523.67,318.54 524.18,264.64 524.70,323.35 525.22,315.11 525.73,305.43 526.25,281.04 526.77,301.96 527.28,292.14 527.80,323.99 528.32,283.67 528.83,294.74 529.35,294.16 529.87,329.73 530.38,287.71 530.90,301.96 531.42,292.76 531.93,301.91 532.45,295.79 532.97,311.05 533.48,285.46 534.00,321.47 534.52,283.76 535.03,276.22 535.55,334.44 536.07,269.27 536.58,305.11 537.10,319.64 537.62,289.50 538.13,298.75 538.65,317.26 539.17,312.35 539.68,280.02 540.20,311.51 540.72,279.39 541.23,324.88 541.75,258.37 542.27,296.62 542.78,334.56 543.30,314.11 543.82,274.03 544.33,309.43 544.85,295.41 545.37,316.33 545.88,298.59 546.40,278.14 546.92,320.49 547.43,307.59 547.95,272.17 548.47,299.10 548.98,310.13 549.50,308.11 550.02,270.29 550.53,322.06 551.05,288.63 551.57,322.21 552.08,300.41 552.60,282.38 553.12,285.43 553.63,328.31 554.15,295.05 554.67,297.96 555.18,280.15 555.70,315.71 556.22,295.29 556.73,294.27 557.25,302.10 557.77,289.64 558.28,332.75 558.80,282.23 559.32,299.18 559.83,317.61 560.35,284.97 560.87,298.62 561.38,306.99 561.90,303.23 562.42,278.67 562.93,310.94 563.45,303.73 563.97,296.23 564.48,308.36 565.00,291.94 565.52,297.19 566.03,314.86 566.55,291.49 567.07,299.84 567.58,297.45 568.10,306.23 568.62,295.65 569.13,305.12 569.65,304.59 570.17,296.05 570.68,311.86 571.20,275.70 571.72,302.79 572.23,313.64 572.75,300.66 573.27,299.36 573.78,303.54 574.30,299.29 574.82,281.77 575.33,309.13 575.85,286.77 576.37,304.29 576.88,300.91 577.40,319.06 577.92,266.08 578.43,321.44 578.95,323.42 579.47,277.43 579.98,301.24 580.50,289.76 581.02,317.64 581.53,287.07 582.05,305.66 582.57,282.56 583.08,316.64 583.60,291.22 584.12,294.40 584.63,320.08 585.15,287.56 585.67,303.22 586.18,282.40 586.70,311.01 587.22,314.74 587.73,271.35 588.25,326.49 588.77,294.52 589.28,298.15 589.80,294.86 590.32,313.90 590.83,295.14 591.35,301.56 591.87,293.67 592.38,311.16 592.90,295.76 593.42,310.75 593.93,265.37 594.45,313.36 594.97,291.91 595.48,321.78 596.00,311.61 596.52,298.51 597.03,295.91 597.55,280.35 598.07,310.06 598.58,301.70 599.10,307.96 599.62,267.54 600.13,333.61 600.65,287.39 601.17,300.65 601.68,298.42 602.20,300.20 602.72,294.14 603.23,274.64 603.75,316.83 604.27,309.00 604.78,315.13 605.30,271.50 605.82,299.29 606.33,323.78 606.85,287.51 607.37,332.01 607.88,285.46 608.40,276.18 608.92,331.61 609.43,273.48 609.95,294.81 610.47,328.41 610.98,285.36 611.50,281.87 612.02,289.80 612.53,325.91 613.05,283.87 613.57,326.05 614.08,298.19 614.60,287.52 615.12,296.45 615.63,306.22 616.15,289.19" stroke="#ff0000"/>
<polyline points="100.00,297.44 100.52,302.67 101.03,303.49 101.55,299.45 102.07,301.15 102.58,298.72 103.10,295.22 103.62,300.44 104.13,298.27 104.65,302.11 105.17,300.12 105.68,308.52 106.20,297.72 106.72,300.56 107.23,301.44 107.75,308.54 108.27,284.42 108.78,308.81 109.30,298.51 109.82,299.93 110.33,288.64 110.85,305.67 111.37,294.73 111.88,307.52 112.40,295.98 112.92,299.94 113.43,304.70 113.95,298.54 114.47,309.24 114.98,296.83 115.50,294.31 116.02,311.98 116.53,287.39 117.05,300.36 117.57,304.20 118.08,292.85 118.60,301.46 119.12,296.79 119.63,304.61 120.15,297.96 120.67,301.50 121.18,308.25 121.70,293.45 122.22,300.62 122.73,298.84 123.25,300.33 123.77,296.18 124.28,304.32 124.80,303.29 125.32,293.69 125.83,313.05 126.35,296.80 126.87,287.05 127.38,313.16 127.90,291.46 128.42,306.66 128.93,291.48 129.45,301.54 129.97,296.67 130.48,302.32 131.00,296.89 131.52,310.30 132.03,288.04 132.55,309.63 133.07,293.79 133.58,304.90 134.10,293.56 134.62,303.43 135.13,301.02 135.65,298.07 136.17,303.12 136.68,299.80 137.20,293.06 137.72,304.12 138.23,302.29 138.75,302.42 139.27,292.22 139.78,309.74 140.30,296.46 140.82,305.33 141.33,297.31 141.85,297.82 142.37,297.50 142.88,301.99 143.40,295.14 143.92,313.49 144.43,280.94 144.95,307.32 145.47,300.41 145.98,306.41 146.50,291.21 147.02,308.38 147.53,296.59 148.05,298.73 148.57,298.32 149.08,300.16 149.60,306.67 150.12,301.95 150.63,287.33 151.15,302.66 151.67,300.96 152.18,300.62 152.70,299.63 153.22,311.52 153.73,290.77 154.25,295.45 154.77,304.15 155.28,296.89 155.80,301.49 156.32,304.11 156.83,301.60 157.35,296.86 157.87,294.47 158.38,312.61 158.90,287.96 159.42,313.56 159.93,281.27 160.45,310.32 160.97,298.44 161.48,302.97 162.00,293.16 162.52,308.04 163.03,289.87 163.55,296.19 164.07,310.30 164.58,304.15 165.10,292.13 165.62,307.30 166.13,298.06 166.65,297.43 167.17,295.88 167.68,310.42 168.20,291.34 168.72,300.92 169.23,302.98 169.75,296.17 170.27,302.89 170.78,302.20 171.30,307.77 171.82,302.26 172.33,288.01 172.85,296.95 173.37,308.17 173.88,296.64 174.40,291.02 174.92,303.49 175.43,312.45 175.95,288.49 176.47,304.55 176.98,296.20 177.50,302.11 178.02,305.00 178.53,285.64 179.05,322.25 179.57,292.82 180.08,289.44 180.60,306.19 181.12,298.11 181.63,306.28 182.15,291.52 182.67,307.46 183.18,302.22 183.70,300.05 184.22,288.96 184.73,305.76 185.25,296.25 185.77,301.57 186.28,302.75 186.80,304.82 187.32,292.88 187.83,298.38 188.35,308.55 188.87,297.40 189.38,301.29 189.90,305.83 190.42,288.52 190.93,298.62 191.45,303.23 191.97,298.43 192.48,300.32 193.00,295.00 193.52,301.85 194.03,299.40 194.55,308.23 195.07,293.96 195.58,302.46 196.10,305.17 196.62,292.52 197.13,310.23 197.65,297.38 198.17,289.45 198.68,301.92 199.20,312.21 199.72,289.20 200.23,301.24 200.75,301.91 201.27,304.17 201.78,295.98 202.30,295.04 202.82,294.76 203.33,304.56 203.85,308.34 204.37,292.45 204.88,293.26 205.40,311.00 205.92,305.15 206.43,288.71 206.95,308.12 207.47,296.81 207.98,298.61 208.50,302.56 209.02,299.12 209.53,296.80 210.05,299.57 210.57,302.02 211.08,297.79 211.60,302.14 212.12,304.69 212.63,288.24 213.15,306.96 213.67,299.12 214.18,297.38 214.70,305.67 215.22,306.00 215.73,301.67 216.25,293.74 216.77,293.06 217.28,303.15 217.80,299.06 218.32,305.14 218.83,304.62 219.35,294.40 219.87,307.64 220.38,295.43 220.90,293.41 221.42,305.70 221.93,303.81 222.45,290.75 222.97,300.19 223.48,301.62 224.00,309.49 224.52,287.90 225.03,304.75 225.55,296.13 226.07,297.37 226.58,302.95 227.10,296.00 227.62,302.73 228.13,305.54 228.65,300.54 229.17,287.96 229.68,298.59 230.20,311.80 230.72,297.17 231.23,299.14 231.75,298.31 232.27,311.14 232.78,288.67 233.30,302.88 233.82,299.75 234.33,302.72 234.85,291.36 235.37,308.36 235.88,289.65 236.40,301.03 236.92,310.04 237.43,292.81 237.95,299.81 238.47,306.20 238.98,309.08 239.50,290.83 240.02,296.94 240.53,290.71 241.05,304.58 241.57,301.58 242.08,303.28 242.60,296.86 243.12,308.56 243.63,299.89 244.15,302.39 244.67,299.22 245.18,295.24 245.70,289.63 246.22,316.41 246.73,291.89 247.25,301.24 247.77,309.12 248.28,291.89 248.80,309.57 249.32,284.37 249.83,301.28 250.35,307.89 250.87,298.29 251.38,300.59 251.90,300.74 252.42,293.21 252.93,309.07 253.45,296.29 253.97,304.08 254.48,288.67 255.00,304.87 255.52,295.59 256.03,309.14 256.55,308.61 257.07,284.66 257.58,301.11 258.10,297.49 258.62,304.44 259.13,296.62 259.65,299.05 260.17,306.83 260.68,307.95 261.20,286.34 261.72,302.33 262.23,303.01 262.75,303.88 263.27,285.70 263.78,307.54 264.30,300.16 264.82,305.01 265.33,299.22 265.85,295.34 266.37,307.32 266.88,287.90 267.40,308.07 267.92,291.63 268.43,305.50 268.95,304.50 269.47,286.47 269.98,309.97 270.50,302.21 271.02,293.02 271.53,302.60 272.05,301.80 272.57,309.68 273.08,298.74 273.60,287.33 274.12,306.93 274.63,295.12 275.15,306.61 275.67,294.47 276.18,309.86 276.70,292.56 277.22,291.94 277.73,305.89 278.25,302.87 278.77,298.73 279.28,299.50 279.80,290.92 280.32,308.26 280.83,298.65 281.35,304.50 281.87,294.96 282.38,300.48 282.90,305.65 283.42,304.63 283.93,293.10 284.45,293.24 284.97,308.48 285.48,298.94 286.00,292.61 286.52,306.20 287.03,308.62 287.55,282.86 288.07,307.56 288.58,302.91 289.10,298.71 289.62,296.29 290.13,304.94 290.65,288.96 291.17,306.40 291.68,299.13 292.20,301.58 292.72,304.11 293.23,296.40 293.75,292.40 294.27,310.82 294.78,298.37 295.30,297.58 295.82,305.37 296.33,292.19 296.85,310.08 297.37,292.18 297.88,306.73 298.40,296.69 298.92,299.99 299.43,285.84 299.95,315.41 300.47,292.39 300.98,302.89 301.50,305.51 302.02,292.11 302.53,304.54 303.05,307.56 303.57,300.65 304.08,290.93 304.60,299.90 305.12,308.42 305.63,292.10 306.15,301.87 306.67,296.18 307.18,305.72 307.70,296.29 308.22,300.96 308.73,296.68 309.25,297.69 309.77,295.28 310.28,316.95 310.80,291.61 311.32,305.59 311.83,301.16 312.35,303.03 312.87,294.34 313.38,297.15 313.90,301.44 314.42,297.77 314.93,300.18 315.45,298.74 315.97,301.97 316.48,298.77 317.00,300.67 317.52,303.09 318.03,304.15 318.55,300.72 319.07,290.97 319.58,306.86 320.10,291.83 320.62,305.82 321.13,301.43 321.65,297.53 322.17,298.14 322.68,292.52 323.20,310.19 323.72,300.45 324.23,295.80 324.75,297.06 325.27,305.16 325.78,301.96 326.30,294.98 326.82,300.99 327.33,299.29 327.85,308.51 328.37,290.48 328.88,302.64 329.40,295.27 329.92,306.18 330.43,296.87 330.95,303.16 331.47,288.77 331.98,317.04 332.50,297.63 333.02,299.21 333.53,310.38 334.05,288.42 334.57,289.81 335.08,304.16 335.60,298.42 336.12,305.65 336.63,302.39 337.15,297.75 337.67,305.35 338.18,302.04 338.70,286.62 339.22,305.30 339.73,293.38 340.25,313.03 340.77,293.03 341.28,307.51 341.80,285.52 342.32,306.93 342.83,305.30 343.35,299.87 343.87,289.29 344.38,311.07 344.90,296.01 345.42,298.92 345.93,304.78 346.45,288.12 346.97,298.43 347.48,311.21 348.00,296.52 348.52,297.45 349.03,300.48 349.55,299.49 350.07,308.80 350.58,294.42 351.10,306.78 351.62,293.90 352.13,297.07 352.65,298.43 353.17,313.83 353.68,288.91 354.20,307.79 354.72,291.09 355.23,300.36 355.75,300.98 356.27,296.34 356.78,303.25 357.30,304.92 357.82,297.93 358.33,296.74 358.85,309.41 359.37,293.39 359.88,297.14 360.40,306.70 360.92,289.28 361.43,300.54 361.95,302.69 362.47,302.96 362.98,301.15 363.50,295.61 364.02,300.58 364.53,297.70 365.05,307.76 365.57,293.87 366.08,297.65 366.60,309.71 367.12,294.89 367.63,300.48 368.15,301.06 368.67,294.61 369.18,305.31 369.70,295.85 370.22,301.40 370.73,298.41 371.25,304.67 371.77,301.92 372.28,293.93 372.80,302.80 373.32,296.38 373.83,306.11 374.35,300.33 374.87,294.15 375.38,302.57 375.90,301.28 376.42,296.26 376.93,303.94 377.45,298.32 377.97,298.43 378.48,307.43 379.00,290.47 379.52,304.48 380.03,301.24 380.55,299.00 381.07,302.63 381.58,305.49 382.10,291.33 382.62,302.28 383.13,290.48 383.65,300.68 384.17,309.01 384.68,296.22 385.20,296.50 385.72,303.26 386.23,302.39 386.75,300.80 387.27,303.11 387.78,291.44 388.30,301.14 388.82,302.05 389.33,300.75 389.85,292.11 390.37,305.82 390.88,295.89 391.40,311.65 391.92,298.43 392.43,299.78 392.95,292.99 393.47,304.91 393.98,292.37 394.50,305.47 395.02,296.02 395.53,306.01 396.05,294.41 396.57,305.42 397.08,298.89 397.60,304.20 398.12,303.62 398.63,297.11 399.15,293.47 399.67,300.05 400.18,308.55 400.70,298.05 401.22,300.97 401.73,291.12 402.25,306.57 402.77,300.64 403.28,293.28 403.80,304.82 404.32,294.96 404.83,298.91 405.35,306.01 405.87,305.12 406.38,293.57 406.90,288.94 407.42,314.69 407.93,289.05 408.45,308.99 408.97,301.45 409.48,288.99 410.00,308.58 410.52,307.78 411.03,296.40 411.55,297.75 412.07,298.79 412.58,291.66 413.10,301.41 413.62,304.31 414.13,297.97 414.65,304.17 415.17,305.42 415.68,292.33 416.20,301.11 416.72,294.80 417.23,302.72 417.75,296.23 418.27,307.06 418.78,299.80 419.30,300.42 419.82,301.77 420.33,291.25 420.85,304.17 421.37,306.19 421.88,297.34 422.40,288.62 422.92,298.00 423.43,304.24 423.95,305.76 424.47,293.34 424.98,307.48 425.50,305.09 426.02,294.33 426.53,305.29 427.05,296.03 427.57,288.72 428.08,307.88 428.60,301.44 429.12,297.29 429.63,305.71 430.15,296.81 430.67,305.67 431.18,301.73 431.70,296.01 432.22,303.29 432.73,304.76 433.25,292.17 433.77,302.44 434.28,299.40 434.80,289.27 435.32,303.73 435.83,298.38 436.35,305.42 436.87,303.78 437.38,299.40 437.90,287.73 438.42,320.98 438.93,289.51 439.45,296.74 439.97,307.79 440.48,288.39 441.00,308.50 441.52,296.30 442.03,292.80 442.55,303.14 443.07,304.96 443.58,299.51 444.10,292.73 444.62,298.01 445.13,306.30 445.65,310.83 446.17,293.68 446.68,292.97 447.20,308.20 447.72,297.96 448.23,303.11 448.75,297.44 449.27,293.55 449.78,301.34 450.30,308.09 450.82,289.22 451.33,312.39 451.85,289.01 452.37,300.28 452.88,310.06 453.40,302.51 453.92,286.83 454.43,301.60 454.95,301.98 455.47,304.59 455.98,294.65 456.50,308.62 457.02,289.56 457.53,293.00 458.05,311.48 458.57,294.32 459.08,308.75 459.60,294.57 460.12,302.38 460.63,297.04 461.15,303.43 461.67,306.51 462.18,287.26 462.70,310.20 463.22,289.60 463.73,310.65 464.25,290.80 464.77,301.92 465.28,304.11 465.80,293.16 466.32,303.30 466.83,293.84 467.35,304.24 467.87,297.45 468.38,315.07 468.90,284.23 469.42,307.46 469.93,299.97 470.45,304.95 470.97,297.36 471.48,298.00 472.00,298.32 472.52,300.05 473.03,302.07 473.55,297.51 474.07,296.76 474.58,306.26 475.10,300.77 475.62,292.03 476.13,302.93 476.65,306.38 477.17,292.51 477.68,301.12 478.20,291.90 478.72,305.95 479.23,300.39 479.75,304.08 480.27,304.00 480.78,296.06 481.30,300.77 481.82,300.14 482.33,293.42 482.85,310.04 483.37,287.30 483.88,312.54 484.40,301.93 484.92,289.12 485.43,305.48 485.95,302.17 486.47,294.84 486.98,304.16 487.50,297.19 488.02,302.29 488.53,297.60 489.05,304.53 489.57,293.02 490.08,305.15 490.60,297.63 491.12,310.50 491.63,287.76 492.15,304.95 492.67,298.34 493.18,300.64 493.70,301.08 494.22,301.97 494.73,291.17 495.25,306.53 495.77,298.77 496.28,300.63 496.80,301.83 497.32,291.61 497.83,308.20 498.35,295.29 498.87,305.33 499.38,303.04 499.90,300.14 500.42,290.92 500.93,311.37 501.45,298.83 501.97,295.07 502.48,294.44 503.00,306.05 503.52,291.72 504.03,305.75 504.55,300.27 505.07,291.87 505.58,304.76 506.10,304.28 506.62,300.54 507.13,293.72 507.65,297.40 508.17,307.63 508.68,299.42 509.20,294.31 509.72,308.14 510.23,294.81 510.75,300.77 511.27,301.88 511.78,303.50 512.30,306.61 512.82,290.02 513.33,304.87 513.85,293.14 514.37,303.72 514.88,299.44 515.40,291.46 515.92,303.44 516.43,307.53 516.95,291.71 517.47,305.59 517.98,304.28 518.50,293.39 519.02,300.59 519.53,295.59 520.05,299.77 520.57,299.65 521.08,308.16 521.60,297.14 522.12,307.82 522.63,290.44 523.15,302.41 523.67,308.91 524.18,287.28 524.70,300.79 525.22,309.35 525.73,302.96 526.25,291.43 526.77,297.34 527.28,301.57 527.80,293.01 528.32,295.80 528.83,310.22 529.35,301.44 529.87,301.08 530.38,288.43 530.90,309.34 531.42,296.95 531.93,299.06 532.45,299.33 532.97,302.75 533.48,293.30 534.00,305.99 534.52,301.73 535.03,305.82 535.55,296.66 536.07,298.62 536.58,294.93 537.10,307.43 537.62,296.32 538.13,301.99 538.65,311.53 539.17,286.36 539.68,293.31 540.20,314.58 540.72,288.01 541.23,310.97 541.75,296.31 542.27,298.49 542.78,295.16 543.30,304.37 543.82,299.68 544.33,295.97 544.85,299.70 545.37,305.16 545.88,297.03 546.40,295.85 546.92,304.09 547.43,306.94 547.95,295.03 548.47,307.43 548.98,282.66 549.50,309.31 550.02,308.63 550.53,294.41 551.05,295.91 551.57,298.68 552.08,304.02 552.60,301.24 553.12,302.49 553.63,291.42 554.15,298.30 554.67,304.33 555.18,300.60 555.70,300.24 556.22,303.25 556.73,299.22 557.25,295.63 557.77,301.39 558.28,299.21 558.80,305.52 559.32,292.90 559.83,308.44 560.35,289.34 560.87,306.70 561.38,297.72 561.90,304.68 562.42,297.17 562.93,303.15 563.45,295.74 563.97,309.12 564.48,286.23 565.00,304.44 565.52,297.64 566.03,303.86 566.55,297.03 567.07,305.68 567.58,300.90 568.10,297.77 568.62,304.96 569.13,289.38 569.65,305.37 570.17,299.37 570.68,302.96 571.20,293.52 571.72,297.51 572.23,306.52 572.75,293.33 573.27,303.55 573.78,300.53 574.30,308.93 574.82,296.28 575.33,290.17 575.85,300.60 576.37,294.62 576.88,313.18 577.40,293.35 577.92,310.77 578.43,296.90 578.95,301.11 579.47,298.82 579.98,294.56 580.50,294.70 581.02,305.79 581.53,306.73 582.05,287.86 582.57,304.58 583.08,308.98 583.60,286.17 584.12,306.28 584.63,296.58 585.15,306.55 585.67,299.51 586.18,295.60 586.70,309.56 587.22,292.13 587.73,296.09 588.25,302.09 588.77,302.47 589.28,301.59 589.80,300.01 590.32,291.03 590.83,305.67 591.35,300.48 591.87,305.21 592.38,293.76 592.90,298.31 593.42,314.38 593.93,281.31 594.45,304.01 594.97,304.81 595.48,307.69 596.00,279.81 596.52,308.32 597.03,305.65 597.55,304.54 598.07,288.15 598.58,313.72 599.10,291.35 599.62,301.42 600.13,304.33 600.65,297.72 601.17,299.90 601.68,292.35 602.20,302.32 602.72,296.44 603.23,310.32 603.75,288.99 604.27,304.50 604.78,295.70 605.30,307.44 605.82,296.21 606.33,306.89 606.85,289.92 607.37,305.02 607.88,303.43 608.40,297.80 608.92,299.03 609.43,309.26 609.95,290.73 610.47,305.71 610.98,295.41 611.50,298.65 612.02,289.55 612.53,309.29 613.05,308.37 613.57,290.97 614.08,308.18 614.60,299.40 615.12,298.67 615.63,291.95 616.15,296.39" stroke="#00bfbf"/>
<polyline points="100.00,309.61 100.52,292.97 101.03,296.83 101.55,316.08 102.07,289.61 102.58,286.02 103.10,318.90 103.62,298.21 104.13,300.71 104.65,287.57 105.17,302.15 105.68,300.84 106.20,297.93 106.72,308.84 107.23,305.99 107.75,288.17 108.27,310.56 108.78,288.97 109.30,300.51 109.82,301.69 110.33,294.50 110.85,304.30 111.37,307.84 111.88,297.86 112.40,292.91 112.92,306.38 113.43,293.84 113.95,304.35 114.47,297.34 114.98,305.89 115.50,296.17 116.02,307.08 116.53,295.58 117.05,293.95 117.57,305.78 118.08,301.50 118.60,291.17 119.12,300.49 119.63,309.32 120.15,293.25 120.67,298.76 121.18,306.66 121.70,299.39 122.22,297.15 122.73,291.99 123.25,307.39 123.77,300.09 124.28,312.50 124.80,285.53 125.32,297.10 125.83,309.96 126.35,290.96 126.87,301.96 127.38,297.91 127.90,303.88 128.42,299.79 128.93,288.17 129.45,303.15 129.97,313.27 130.48,303.54 131.00,290.16 131.52,299.70 132.03,301.59 132.55,301.22 133.07,292.40 133.58,321.44 134.10,290.28 134.62,292.26 135.13,300.66 135.65,300.05 136.17,305.96 136.68,288.23 137.20,303.47 137.72,300.63 138.23,301.91 138.75,309.13 139.27,295.91 139.78,303.42 140.30,293.96 140.82,307.28 141.33,293.06 141.85,303.09 142.37,297.06 142.88,310.53 143.40,294.72 143.92,294.26 144.43,297.19 144.95,309.45 145.47,290.87 145.98,290.89 146.50,312.95 147.02,302.99 147.53,305.22 148.05,298.97 148.57,294.85 149.08,298.78 149.60,295.86 150.12,293.98 150.63,312.84 151.15,294.46 151.67,294.01 152.18,304.24 152.70,301.64 153.22,300.18 153.73,307.07 154.25,300.40 154.77,289.63 155.28,297.04 155.80,301.39 156.32,300.12 156.83,297.09 157.35,300.75 157.87,308.79 158.38,296.98 158.90,312.11 159.42,284.13 159.93,304.20 160.45,300.28 160.97,295.72 161.48,311.09 162.00,292.95 162.52,304.86 163.03,288.40 163.55,313.55 164.07,296.74 164.58,295.11 165.10,294.07 165.62,308.17 166.13,306.64 166.65,296.67 167.17,295.00 167.68,298.96 168.20,308.53 168.72,288.60 169.23,309.71 169.75,300.27 170.27,296.48 170.78,304.83 171.30,300.04 171.82,295.27 172.33,310.47 172.85,290.33 173.37,304.00 173.88,292.81 174.40,305.95 174.92,291.20 175.43,302.64 175.95,299.26 176.47,301.33 176.98,305.15 177.50,294.09 178.02,298.89 178.53,302.37 179.05,298.98 179.57,299.92 180.08,302.77 180.60,301.37 181.12,296.91 181.63,299.83 182.15,297.72 182.67,297.23 183.18,307.21 183.70,300.67 184.22,288.46 184.73,309.61 185.25,299.90 185.77,303.76 186.28,294.23 186.80,312.28 187.32,293.13 187.83,297.63 188.35,302.23 188.87,295.56 189.38,295.68 189.90,303.70 190.42,303.51 190.93,309.66 191.45,292.41 191.97,290.40 192.48,298.69 193.00,304.40 193.52,298.74 194.03,300.27 194.55,310.78 195.07,295.03 195.58,300.59 196.10,294.63 196.62,297.66 197.13,304.99 197.65,291.34 198.17,309.57 198.68,301.88 199.20,300.14 199.72,307.04 200.23,286.98 200.75,305.85 201.27,294.43 201.78,301.00 202.30,299.50 202.82,310.37 203.33,294.00 203.85,299.52 204.37,297.20 204.88,306.33 205.40,300.19 205.92,289.55 206.43,312.24 206.95,292.19 207.47,306.31 207.98,291.02 208.50,306.03 209.02,299.51 209.53,302.64 210.05,304.94 210.57,282.30 211.08,308.63 211.60,292.70 212.12,303.80 212.63,307.78 213.15,297.86 213.67,294.82 214.18,302.32 214.70,303.57 215.22,294.94 215.73,297.73 216.25,298.32 216.77,297.72 217.28,307.52 217.80,302.08 218.32,299.96 218.83,310.48 219.35,281.42 219.87,298.64 220.38,325.71 220.90,281.41 221.42,303.30 221.93,298.63 222.45,307.32 222.97,292.23 223.48,309.34 224.00,287.10 224.52,298.48 225.03,298.59 225.55,313.99 226.07,297.70 226.58,297.29 227.10,290.49 227.62,307.59 228.13,291.47 228.65,306.57 229.17,297.74 229.68,310.13 230.20,301.08 230.72,295.79 231.23,302.00 231.75,301.37 232.27,290.17 232.78,295.07 233.30,311.16 233.82,296.89 234.33,292.99 234.85,306.06 235.37,296.66 235.88,300.17 236.40,297.65 236.92,300.27 237.43,304.05 237.95,306.11 238.47,290.00 238.98,310.52 239.50,293.97 240.02,298.43 240.53,288.19 241.05,310.44 241.57,301.24 242.08,303.87 242.60,299.04 243.12,306.61 243.63,303.41 244.15,290.02 244.67,298.47 245.18,303.05 245.70,299.05 246.22,300.00 246.73,290.14 247.25,311.66 247.77,287.62 248.28,312.67 248.80,297.65 249.32,299.17 249.83,296.86 250.35,295.84 250.87,302.09 251.38,299.43 251.90,303.87 252.42,301.45 252.93,300.54 253.45,305.03 253.97,283.82 254.48,310.98 255.00,303.12 255.52,302.28 256.03,295.70 256.55,303.79 257.07,289.85 257.58,299.33 258.10,308.89 258.62,290.56 259.13,302.22 259.65,302.26 260.17,300.30 260.68,302.69 261.20,294.18 261.72,312.67 262.23,288.22 262.75,303.92 263.27,310.83 263.78,290.47 264.30,297.67 264.82,297.72 265.33,302.56 265.85,305.08 266.37,294.26 266.88,300.60 267.40,316.43 267.92,289.69 268.43,296.35 268.95,301.42 269.47,295.98 269.98,290.91 270.50,309.86 271.02,302.43 271.53,298.10 272.05,304.17 272.57,298.35 273.08,300.72 273.60,293.66 274.12,305.36 274.63,296.88 275.15,298.83 275.67,306.70 276.18,292.15 276.70,295.03 277.22,308.97 277.73,297.50 278.25,295.86 278.77,299.00 279.28,305.00 279.80,302.43 280.32,296.37 280.83,307.83 281.35,298.66 281.87,298.77 282.38,295.24 282.90,307.55 283.42,293.31 283.93,309.33 284.45,296.71 284.97,299.47 285.48,293.03 286.00,294.03 286.52,316.34 287.03,291.13 287.55,301.85 288.07,297.35 288.58,304.79 289.10,293.17 289.62,314.26 290.13,285.18 290.65,297.65 291.17,311.02 291.68,295.20 292.20,306.22 292.72,296.15 293.23,299.74 293.75,311.76 294.27,282.74 294.78,300.95 295.30,294.26 295.82,309.34 296.33,299.00 296.85,294.86 297.37,314.63 297.88,288.46 298.40,304.31 298.92,289.00 299.43,310.08 299.95,294.23 300.47,307.04 300.98,313.68 301.50,277.35 302.02,301.62 302.53,300.20 303.05,306.44 303.57,292.66 304.08,310.52 304.60,299.16 305.12,291.45 305.63,300.76 306.15,294.87 306.67,312.47 307.18,294.23 307.70,299.59 308.22,297.27 308.73,310.62 309.25,294.25 309.77,302.48 310.28,295.37 310.80,288.21 311.32,310.77 311.83,295.79 312.35,304.66 312.87,304.71 313.38,296.88 313.90,301.40 314.42,300.59 314.93,295.30 315.45,301.32 315.97,306.87 316.48,306.14 317.00,292.40 317.52,295.34 318.03,295.23 318.55,305.86 319.07,298.29 319.58,297.57 320.10,299.36 320.62,309.21 321.13,297.42 321.65,295.74 322.17,305.87 322.68,301.68 323.20,296.99 323.72,298.57 324.23,294.87 324.75,307.57 325.27,301.62 325.78,297.82 326.30,293.96 326.82,312.75 327.33,289.74 327.85,296.61 328.37,306.81 328.88,300.90 329.40,302.85 329.92,298.75 330.43,296.30 330.95,293.20 331.47,303.40 331.98,304.63 332.50,305.11 333.02,298.76 333.53,288.97 334.05,312.11 334.57,288.37 335.08,304.08 335.60,295.84 336.12,303.09 336.63,304.53 337.15,297.42 337.67,301.90 338.18,304.06 338.70,295.12 339.22,299.34 339.73,305.02 340.25,295.98 340.77,295.16 341.28,303.55 341.80,305.41 342.32,287.14 342.83,310.85 343.35,291.01 343.87,303.88 344.38,296.29 344.90,304.09 345.42,306.62 345.93,288.71 346.45,309.37 346.97,303.54 347.48,300.17 348.00,290.86 348.52,304.46 349.03,299.81 349.55,304.87 350.07,283.67 350.58,305.74 351.10,298.37 351.62,303.99 352.13,295.23 352.65,308.04 353.17,291.05 353.68,306.75 354.20,301.96 354.72,294.02 355.23,301.65 355.75,300.29 356.27,309.39 356.78,296.96 357.30,301.67 357.82,297.55 358.33,295.71 358.85,305.31 359.37,295.18 359.88,305.14 360.40,296.50 360.92,295.69 361.43,297.16 361.95,296.43 362.47,307.97 362.98,299.58 363.50,294.23 364.02,314.85 364.53,297.46 365.05,290.42 365.57,299.38 366.08,295.87 366.60,300.65 367.12,300.69 367.63,303.70 368.15,303.70 368.67,294.48 369.18,314.65 369.70,292.03 370.22,306.47 370.73,293.88 371.25,312.61 371.77,284.25 372.28,302.45 372.80,294.46 373.32,312.99 373.83,294.06 374.35,294.06 374.87,312.69 375.38,292.57 375.90,309.67 376.42,280.38 376.93,313.74 377.45,295.27 377.97,298.70 378.48,310.36 379.00,294.16 379.52,305.18 380.03,289.37 380.55,295.66 381.07,318.12 381.58,289.20 382.10,306.70 382.62,291.24 383.13,299.07 383.65,298.30 384.17,301.39 384.68,310.94 385.20,298.48 385.72,294.06 386.23,296.37 386.75,307.12 387.27,298.10 387.78,295.80 388.30,301.55 388.82,295.42 389.33,310.54 389.85,292.19 390.37,301.90 390.88,300.02 391.40,301.29 391.92,301.80 392.43,290.88 392.95,309.50 393.47,295.05 393.98,301.43 394.50,303.72 395.02,295.42 395.53,299.78 396.05,293.92 396.57,311.34 397.08,293.35 397.60,300.27 398.12,298.06 398.63,307.84 399.15,295.32 399.67,307.41 400.18,292.43 400.70,296.14 401.22,298.16 401.73,317.87 402.25,291.32 402.77,296.21 403.28,310.46 403.80,279.32 404.32,310.47 404.83,309.82 405.35,276.62 405.87,312.86 406.38,311.59 406.90,294.96 407.42,299.20 407.93,296.94 408.45,291.46 408.97,311.28 409.48,299.27 410.00,297.37 410.52,297.37 411.03,301.33 411.55,307.81 412.07,289.39 412.58,308.38 413.10,299.75 413.62,284.20 414.13,320.42 414.65,291.68 415.17,304.85 415.68,291.52 416.20,301.46 416.72,306.42 417.23,297.76 417.75,300.28 418.27,294.99 418.78,310.81 419.30,290.03 419.82,300.29 420.33,301.32 420.85,302.13 421.37,294.50 421.88,300.54 422.40,301.71 422.92,300.73 423.43,297.03 423.95,300.09 424.47,308.59 424.98,300.61 425.50,296.03 426.02,301.57 426.53,299.26 427.05,298.17 427.57,292.34 428.08,306.31 428.60,299.41 429.12,296.90 429.63,307.17 430.15,298.42 430.67,307.45 431.18,295.26 431.70,292.82 432.22,304.90 432.73,299.75 433.25,290.84 433.77,299.25 434.28,307.45 434.80,304.88 435.32,302.03 435.83,294.00 436.35,305.31 436.87,294.93 437.38,302.31 437.90,298.26 438.42,301.09 438.93,292.39 439.45,306.64 439.97,291.31 440.48,309.88 441.00,290.22 441.52,312.49 442.03,293.96 442.55,302.96 443.07,303.43 443.58,285.01 444.10,309.21 444.62,305.33 445.13,302.85 445.65,289.87 446.17,299.43 446.68,302.68 447.20,303.77 447.72,299.25 448.23,303.83 448.75,296.63 449.27,299.17 449.78,295.06 450.30,299.36 450.82,309.12 451.33,304.41 451.85,281.59 452.37,308.30 452.88,304.21 453.40,295.23 453.92,305.09 454.43,298.44 454.95,309.64 455.47,290.16 455.98,290.32 456.50,303.88 457.02,305.12 457.53,298.41 458.05,297.09 458.57,298.25 459.08,308.96 459.60,297.35 460.12,297.88 460.63,296.62 461.15,305.91 461.67,296.03 462.18,298.46 462.70,303.56 463.22,297.68 463.73,296.67 464.25,311.55 464.77,293.29 465.28,299.36 465.80,291.21 466.32,319.47 466.83,294.49 467.35,303.39 467.87,297.86 468.38,293.64 468.90,306.24 469.42,295.87 469.93,299.36 470.45,301.10 470.97,294.86 471.48,302.32 472.00,305.59 472.52,298.17 473.03,296.49 473.55,304.19 474.07,294.96 474.58,302.36 475.10,302.35 475.62,299.05 476.13,303.71 476.65,293.29 477.17,304.18 477.68,300.68 478.20,297.97 478.72,288.19 479.23,304.89 479.75,308.54 480.27,301.81 480.78,291.77 481.30,308.13 481.82,289.66 482.33,308.81 482.85,291.48 483.37,295.34 483.88,311.31 484.40,295.23 484.92,299.50 485.43,292.22 485.95,299.64 486.47,315.67 486.98,289.73 487.50,301.08 488.02,303.59 488.53,298.92 489.05,307.59 489.57,299.06 490.08,296.24 490.60,305.88 491.12,291.88 491.63,300.81 492.15,293.52 492.67,312.52 493.18,288.24 493.70,304.62 494.22,300.33 494.73,301.44 495.25,299.84 495.77,303.38 496.28,301.18 496.80,289.42 497.32,316.96 497.83,284.33 498.35,302.87 498.87,300.64 499.38,296.07 499.90,304.91 500.42,298.89 500.93,298.00 501.45,303.73 501.97,294.77 502.48,300.43 503.00,304.76 503.52,297.45 504.03,306.43 504.55,294.32 505.07,300.72 505.58,307.59 506.10,293.11 506.62,297.43 507.13,307.18 507.65,301.67 508.17,293.97 508.68,302.63 509.20,301.86 509.72,295.10 510.23,304.83 510.75,294.90 511.27,295.46 511.78,303.56 512.30,300.67 512.82,305.73 513.33,288.92 513.85,307.45 514.37,290.53 514.88,310.83 515.40,297.20 515.92,306.39 516.43,292.29 516.95,308.19 517.47,293.11 517.98,292.24 518.50,304.61 519.02,309.69 519.53,289.41 520.05,310.14 520.57,295.82 521.08,301.15 521.60,299.26 522.12,298.41 522.63,311.29 523.15,283.55 523.67,305.56 524.18,304.49 524.70,293.58 525.22,294.53 525.73,311.85 526.25,291.91 526.77,303.59 527.28,299.17 527.80,303.07 528.32,297.13 528.83,297.30 529.35,310.38 529.87,296.35 530.38,298.79 530.90,300.32 531.42,305.40 531.93,294.70 532.45,302.81 532.97,292.64 533.48,301.89 534.00,299.17 534.52,298.97 535.03,304.12 535.55,302.51 536.07,291.83 536.58,305.36 537.10,300.96 537.62,289.25 538.13,314.81 538.65,288.91 539.17,297.56 539.68,308.08 540.20,301.26 540.72,295.33 541.23,305.68 541.75,305.61 542.27,285.17 542.78,297.62 543.30,314.05 543.82,290.24 544.33,302.43 544.85,301.05 545.37,296.36 545.88,305.54 546.40,299.37 546.92,297.86 547.43,299.15 547.95,313.17 548.47,282.61 548.98,302.88 549.50,297.58 550.02,305.99 550.53,304.22 551.05,292.38 551.57,300.07 552.08,297.86 552.60,301.36 553.12,307.49 553.63,301.18 554.15,295.70 554.67,297.08 555.18,302.31 555.70,302.15 556.22,296.72 556.73,309.60 557.25,291.68 557.77,310.05 558.28,281.31 558.80,316.84 559.32,282.53 559.83,304.41 560.35,299.17 560.87,301.12 561.38,305.78 561.90,297.81 562.42,292.66 562.93,312.86 563.45,295.92 563.97,294.33 564.48,307.79 565.00,288.43 565.52,314.01 566.03,297.93 566.55,296.05 567.07,304.03 567.58,297.62 568.10,298.78 568.62,300.83 569.13,297.52 569.65,299.79 570.17,300.21 570.68,300.59 571.20,300.63 571.72,298.69 572.23,299.78 572.75,297.97 573.27,295.91 573.78,310.92 574.30,288.32 574.82,304.39 575.33,299.32 575.85,307.30 576.37,296.19 576.88,299.72 577.40,302.85 577.92,295.27 578.43,309.08 578.95,298.51 579.47,291.93 579.98,302.06 580.50,309.79 581.02,290.19 581.53,301.41 582.05,296.65 582.57,304.46 583.08,299.77 583.60,304.89 584.12,295.83 584.63,301.41 585.15,295.53 585.67,312.32 586.18,290.43 586.70,294.61 587.22,318.51 587.73,283.59 588.25,301.19 588.77,301.47 589.28,299.00 589.80,304.99 590.32,292.57 590.83,302.86 591.35,309.89 591.87,288.24 592.38,308.71 592.90,299.32 593.42,293.42 593.93,303.82 594.45,297.24 594.97,299.55 595.48,301.85 596.00,297.47 596.52,309.39 597.03,284.42 597.55,303.95 598.07,307.27 598.58,297.87 599.10,291.97 599.62,311.32 600.13,303.62 600.65,282.08 601.17,303.55 601.68,304.50 602.20,293.74 602.72,305.80 603.23,298.78 603.75,300.58 604.27,299.19 604.78,308.21 605.30,295.09 605.82,298.60 606.33,306.77 606.85,301.02 607.37,294.25 607.88,292.00 608.40,308.24 608.92,294.27 609.43,299.13 609.95,299.54 610.47,303.34 610.98,311.39 611.50,301.97 612.02,295.06 612.53,296.04 613.05,299.19 613.57,301.74 614.08,299.36 614.60,295.45 615.12,308.66 615.63,291.37 616.15,300.18" stroke="#bf00bf"/>
<polyline points="100.00,289.11 100.52,296.82 101.03,293.79 101.55,291.58 102.07,318.10 102.58,290.82 103.10,317.92 103.62,271.03 104.13,302.90 104.65,319.97 105.17,254.90 105.68,213.60 106.20,303.35 106.72,302.51 107.23,285.16 107.75,304.06 108.27,314.18 108.78,279.69 109.30,289.55 109.82,292.25 110.33,316.17 110.85,315.40 111.37,307.85 111.88,276.22 112.40,286.86 112.92,282.32 113.43,345.97 113.95,313.98 114.47,298.07 114.98,275.96 115.50,294.45 116.02,325.29 116.53,308.35 117.05,313.68 117.57,252.23 118.08,341.43 118.60,225.60 119.12,313.85 119.63,332.80 120.15,285.43 120.67,261.30 121.18,318.06 121.70,304.34 122.22,204.00 122.73,323.08 123.25,297.52 123.77,299.75 124.28,300.60 124.80,281.69 125.32,329.54 125.83,398.40 126.35,292.16 126.87,337.18 127.38,282.01 127.90,188.40 128.42,277.45 128.93,279.10 129.45,305.17 129.97,324.49 130.48,282.19 131.00,301.39 131.52,370.80 132.03,299.33 132.55,267.22 133.07,383.29 133.58,263.25 134.10,273.06 134.62,318.27 135.13,291.62 135.65,183.60 136.17,309.66 136.68,295.55 137.20,314.04 137.72,286.49 138.23,286.04 138.75,295.42 139.27,308.87 139.78,314.07 140.30,302.54 140.82,411.60 141.33,272.56 141.85,313.99 142.37,295.33 142.88,293.72 143.40,390.00 143.92,298.73 144.43,205.80 144.95,320.60 145.47,287.92 145.98,279.47 146.50,314.29 147.02,290.68 147.53,306.35 148.05,273.80 148.57,297.03 149.08,283.39 149.60,181.20 150.12,278.70 150.63,337.89 151.15,184.80 151.67,304.57 152.18,315.25 152.70,266.71 153.22,323.29 153.73,330.84 154.25,500.40 154.77,325.06 155.28,287.17 155.80,326.26 156.32,302.00 156.83,308.24 157.35,297.45 157.87,267.61 158.38,303.08 158.90,339.66 159.42,270.42 159.93,299.59 160.45,314.43 160.97,281.06 161.48,216.00 162.00,375.60 162.52,322.89 163.03,291.91 163.55,365.89 164.07,246.38 164.58,291.41 165.10,312.00 165.62,292.75 166.13,313.23 166.65,115.20 167.17,334.25 167.68,287.26 168.20,268.64 168.72,304.93 169.23,321.58 169.75,322.52 170.27,311.56 170.78,258.04 171.30,303.60 171.82,309.30 172.33,299.99 172.85,256.55 173.37,321.98 173.88,315.69 174.40,303.99 174.92,302.39 175.43,287.74 175.95,310.62 176.47,234.00 176.98,309.72 177.50,278.47 178.02,309.14 178.53,324.95 179.05,226.96 179.57,347.16 180.08,313.48 180.60,313.77 181.12,276.34 181.63,312.51 182.15,258.11 182.67,321.25 183.18,320.27 183.70,321.22 184.22,253.35 184.73,344.97 185.25,368.40 185.77,306.41 186.28,352.41 186.80,254.70 187.32,265.41 187.83,346.24 188.35,324.75 188.87,290.20 189.38,370.80 189.90,293.23 190.42,290.10 190.93,310.30 191.45,322.19 191.97,379.20 192.48,296.26 193.00,298.69 193.52,319.99 194.03,265.41 194.55,291.75 195.07,322.34 195.58,382.80 196.10,325.84 196.62,273.07 197.13,318.46 197.65,301.59 198.17,223.80 198.68,312.13 199.20,311.12 199.72,321.51 200.23,269.49 200.75,270.18 201.27,324.09 201.78,375.00 202.30,281.86 202.82,283.45 203.33,327.97 203.85,388.80 204.37,314.95 204.88,294.58 205.40,300.71 205.92,440.40 206.43,328.94 206.95,285.41 207.47,300.11 207.98,307.27 208.50,309.38 209.02,273.98 209.53,321.84 210.05,321.51 210.57,258.21 211.08,339.63 211.60,259.25 212.12,360.63 212.63,386.40 213.15,266.90 213.67,336.93 214.18,274.65 214.70,328.77 215.22,306.75 215.73,291.13 216.25,277.21 216.77,387.60 217.28,297.44 217.80,309.84 218.32,316.92 218.83,336.59 219.35,276.95 219.87,258.24 220.38,357.65 220.90,261.39 221.42,301.00 221.93,339.14 222.45,262.67 222.97,313.70 223.48,177.00 224.00,305.66 224.52,302.03 225.03,313.21 225.55,392.40 226.07,230.16 226.58,348.87 227.10,288.85 227.62,302.17 228.13,298.47 228.65,308.38 229.17,275.76 229.68,410.40 230.20,308.91 230.72,302.01 231.23,435.60 231.75,326.39 232.27,273.06 232.78,435.00 233.30,177.60 233.82,309.35 234.33,341.29 234.85,216.00 235.37,308.41 235.88,279.40 236.40,335.68 236.92,199.20 237.43,264.32 237.95,341.89 238.47,263.64 238.98,315.03 239.50,352.26 240.02,262.63 240.53,300.34 241.05,316.33 241.57,182.40 242.08,263.45 242.60,320.51 243.12,293.49 243.63,305.20 244.15,286.87 244.67,286.17 245.18,372.00 245.70,305.39 246.22,316.36 246.73,296.39 247.25,286.13 247.77,287.54 248.28,324.89 248.80,219.60 249.32,270.52 249.83,293.68 250.35,320.46 250.87,269.13 251.38,331.10 251.90,291.08 252.42,293.08 252.93,378.00 253.45,352.09 253.97,267.88 254.48,295.43 255.00,316.84 255.52,278.59 256.03,390.00 256.55,207.60 257.07,301.44 257.58,289.64 258.10,231.60 258.62,270.36 259.13,309.22 259.65,327.26 260.17,243.35 260.68,325.00 261.20,335.59 261.72,303.80 262.23,264.02 262.75,275.73 263.27,331.34 263.78,276.03 264.30,287.52 264.82,146.40 265.33,319.74 265.85,318.50 266.37,287.82 266.88,262.59 267.40,324.49 267.92,171.60 268.43,289.01 268.95,296.06 269.47,274.98 269.98,332.15 270.50,405.00 271.02,192.00 271.53,297.53 272.05,327.85 272.57,271.21 273.08,302.72 273.60,378.00 274.12,327.02 274.63,282.56 275.15,333.12 275.67,290.04 276.18,237.04 276.70,207.60 277.22,305.93 277.73,268.57 278.25,320.21 278.77,247.04 279.28,348.31 279.80,408.00 280.32,318.38 280.83,273.36 281.35,320.90 281.87,223.80 282.38,365.30 282.90,277.85 283.42,294.82 283.93,335.40 284.45,364.80 284.97,304.82 285.48,317.19 286.00,262.22 286.52,360.54 287.03,270.25 287.55,297.06 288.07,273.06 288.58,308.17 289.10,277.41 289.62,296.94 290.13,319.73 290.65,229.20 291.17,268.03 291.68,327.47 292.20,392.40 292.72,293.20 293.23,272.29 293.75,277.60 294.27,326.96 294.78,332.27 295.30,273.19 295.82,293.42 296.33,240.00 296.85,280.79 297.37,315.55 297.88,298.92 298.40,286.50 298.92,298.99 299.43,317.32 299.95,284.99 300.47,323.87 300.98,279.76 301.50,384.00 302.02,311.68 302.53,320.17 303.05,229.20 303.57,278.10 304.08,289.14 304.60,300.24 305.12,298.77 305.63,286.35 306.15,341.10 306.67,270.17 307.18,336.87 307.70,251.93 308.22,314.48 308.73,439.20 309.25,267.92 309.77,294.20 310.28,334.12 310.80,278.40 311.32,289.85 311.83,366.00 312.35,345.38 312.87,260.39 313.38,348.15 313.90,296.63 314.42,230.40 314.93,311.21 315.45,328.47 315.97,256.72 316.48,319.38 317.00,305.90 317.52,308.93 318.03,343.39 318.55,368.40 319.07,282.32 319.58,318.78 320.10,285.43 320.62,315.57 321.13,272.05 321.65,380.77 322.17,236.18 322.68,326.65 323.20,222.00 323.72,291.48 324.23,290.60 324.75,472.80 325.27,133.80 325.78,341.64 326.30,278.44 326.82,343.82 327.33,252.53 327.85,337.57 328.37,248.74 328.88,316.40 329.40,309.12 329.92,306.94 330.43,284.37 330.95,314.84 331.47,315.58 331.98,265.71 332.50,323.71 333.02,274.85 333.53,386.40 334.05,304.88 334.57,235.05 335.08,330.77 335.60,288.50 336.12,327.77 336.63,295.83 337.15,299.48 337.67,262.75 338.18,324.37 338.70,223.20 339.22,302.64 339.73,298.01 340.25,281.28 340.77,319.05 341.28,299.46 341.80,275.53 342.32,307.09 342.83,303.28 343.35,277.99 343.87,338.81 344.38,319.42 344.90,399.60 345.42,210.00 345.93,294.26 346.45,286.15 346.97,345.34 347.48,298.34 348.00,278.96 348.52,301.33 349.03,321.16 349.55,276.96 350.07,199.20 350.58,317.84 351.10,251.42 351.62,330.39 352.13,329.08 352.65,288.87 353.17,322.93 353.68,217.20 354.20,346.00 354.72,300.68 355.23,280.41 355.75,320.06 356.27,446.40 356.78,288.72 357.30,279.53 357.82,299.87 358.33,345.33 358.85,305.01 359.37,260.68 359.88,314.46 360.40,302.82 360.92,271.25 361.43,311.50 361.95,318.07 362.47,372.00 362.98,325.73 363.50,295.67 364.02,254.82 364.53,339.99 365.05,284.93 365.57,315.38 366.08,301.02 366.60,315.05 367.12,300.44 367.63,202.80 368.15,282.05 368.67,328.79 369.18,301.85 369.70,321.27 370.22,290.74 370.73,270.16 371.25,279.19 371.77,430.80 372.28,305.60 372.80,286.58 373.32,318.25 373.83,317.08 374.35,302.33 374.87,288.43 375.38,302.51 375.90,337.32 376.42,289.20 376.93,218.40 377.45,297.02 377.97,302.76 378.48,319.85 379.00,308.48 379.52,288.08 380.03,293.02 380.55,315.30 381.07,270.07 381.58,226.20 382.10,331.61 382.62,242.43 383.13,295.78 383.65,320.50 384.17,276.84 384.68,297.10 385.20,371.40 385.72,243.37 386.23,330.73 386.75,220.80 387.27,308.19 387.78,288.91 388.30,321.01 388.82,208.80 389.33,283.25 389.85,259.01 390.37,337.92 390.88,328.14 391.40,280.77 391.92,304.10 392.43,270.96 392.95,321.76 393.47,308.39 393.98,290.65 394.50,316.86 395.02,277.47 395.53,329.77 396.05,287.96 396.57,287.28 397.08,330.06 397.60,299.36 398.12,289.33 398.63,257.37 399.15,379.20 399.67,314.79 400.18,282.04 400.70,207.60 401.22,327.98 401.73,309.43 402.25,255.99 402.77,335.49 403.28,275.12 403.80,341.99 404.32,271.88 404.83,322.12 405.35,408.00 405.87,298.08 406.38,306.99 406.90,292.50 407.42,325.37 407.93,281.98 408.45,296.30 408.97,328.05 409.48,271.72 410.00,426.00 410.52,296.35 411.03,313.56 411.55,296.45 412.07,451.20 412.58,157.20 413.10,291.36 413.62,336.47 414.13,256.34 414.65,333.27 415.17,264.88 415.68,347.45 416.20,284.42 416.72,283.31 417.23,297.24 417.75,370.80 418.27,308.59 418.78,271.04 419.30,292.02 419.82,336.72 420.33,306.02 420.85,288.46 421.37,290.98 421.88,331.16 422.40,285.95 422.92,268.03 423.43,327.67 423.95,300.46 424.47,255.53 424.98,308.30 425.50,288.81 426.02,331.75 426.53,302.58 427.05,305.25 427.57,319.96 428.08,312.21 428.60,261.54 429.12,313.17 429.63,273.15 430.15,293.51 430.67,182.40 431.18,297.23 431.70,269.48 432.22,277.43 432.73,296.87 433.25,342.84 433.77,285.63 434.28,273.91 434.80,341.59 435.32,304.51 435.83,384.00 436.35,339.13 436.87,309.16 437.38,246.94 437.90,338.33 438.42,299.54 438.93,281.08 439.45,282.48 439.97,313.42 440.48,310.32 441.00,296.51 441.52,299.89 442.03,302.59 442.55,229.20 443.07,261.30 443.58,331.53 444.10,288.37 444.62,283.44 445.13,304.72 445.65,222.00 446.17,307.39 446.68,290.39 447.20,274.46 447.72,355.67 448.23,258.26 448.75,285.73 449.27,343.19 449.78,393.60 450.30,295.22 450.82,289.24 451.33,322.10 451.85,293.57 452.37,293.75 452.88,298.10 453.40,274.23 453.92,192.00 454.43,274.89 454.95,300.68 455.47,311.37 455.98,300.87 456.50,318.07 457.02,298.11 457.53,279.43 458.05,302.37 458.57,368.40 459.08,273.07 459.60,319.27 460.12,301.42 460.63,304.22 461.15,276.78 461.67,309.71 462.18,304.54 462.70,329.90 463.22,244.11 463.73,358.24 464.25,266.16 464.77,329.95 465.28,307.22 465.80,331.14 466.32,193.20 466.83,297.38 467.35,312.67 467.87,302.17 468.38,317.07 468.90,275.29 469.42,304.53 469.93,323.06 470.45,280.88 470.97,297.36 471.48,314.95 472.00,258.06 472.52,345.58 473.03,238.58 473.55,315.05 474.07,330.52 474.58,260.38 475.10,309.37 475.62,297.75 476.13,319.97 476.65,322.02 477.17,321.43 477.68,254.64 478.20,230.40 478.72,308.97 479.23,249.85 479.75,329.54 480.27,337.69 480.78,274.17 481.30,287.68 481.82,333.23 482.33,272.46 482.85,310.56 483.37,321.47 483.88,264.24 484.40,218.40 484.92,361.87 485.43,242.60 485.95,319.29 486.47,295.48 486.98,324.97 487.50,287.33 488.02,248.00 488.53,409.20 489.05,316.42 489.57,295.24 490.08,317.20 490.60,286.73 491.12,313.83 491.63,279.09 492.15,326.01 492.67,275.10 493.18,289.01 493.70,320.76 494.22,290.27 494.73,298.40 495.25,315.34 495.77,316.53 496.28,399.60 496.80,318.49 497.32,307.31 497.83,270.74 498.35,339.07 498.87,294.05 499.38,303.68 499.90,435.00 500.42,283.29 500.93,309.23 501.45,261.72 501.97,198.00 502.48,264.37 503.00,340.11 503.52,184.80 504.03,293.11 504.55,317.22 505.07,270.88 505.58,323.71 506.10,301.33 506.62,274.66 507.13,326.91 507.65,274.27 508.17,291.66 508.68,199.20 509.20,288.42 509.72,334.14 510.23,268.96 510.75,217.20 511.27,320.92 511.78,272.42 512.30,260.25 512.82,355.22 513.33,248.12 513.85,359.85 514.37,234.00 514.88,307.65 515.40,317.68 515.92,333.94 516.43,245.16 516.95,300.52 517.47,302.74 517.98,291.01 518.50,333.47 519.02,247.37 519.53,320.46 520.05,331.39 520.57,244.71 521.08,340.52 521.60,291.67 522.12,292.82 522.63,331.98 523.15,300.54 523.67,286.34 524.18,318.41 524.70,282.39 525.22,394.80 525.73,347.15 526.25,277.17 526.77,312.21 527.28,273.77 527.80,206.40 528.32,298.93 528.83,282.62 529.35,259.21 529.87,355.72 530.38,314.37 530.90,228.00 531.42,268.23 531.93,296.06 532.45,318.42 532.97,294.17 533.48,219.60 534.00,266.48 534.52,310.43 535.03,308.80 535.55,269.54 536.07,299.06 536.58,328.60 537.10,286.92 537.62,340.36 538.13,165.00 538.65,255.89 539.17,345.56 539.68,296.31 540.20,261.65 540.72,364.18 541.23,269.82 541.75,273.15 542.27,322.40 542.78,385.20 543.30,303.23 543.82,276.50 544.33,321.64 544.85,276.62 545.37,308.50 545.88,151.20 546.40,279.27 546.92,329.58 547.43,308.88 547.95,282.35 548.47,294.91 548.98,193.20 549.50,328.25 550.02,255.72 550.53,345.19 551.05,304.40 551.57,245.27 552.08,289.34 552.60,333.51 553.12,310.11 553.63,258.59 554.15,350.65 554.67,275.67 555.18,310.23 555.70,278.00 556.22,305.33 556.73,320.27 557.25,264.72 557.77,306.80 558.28,313.68 558.80,305.57 559.32,193.80 559.83,322.13 560.35,280.81 560.87,184.80 561.38,285.00 561.90,314.09 562.42,303.85 562.93,287.61 563.45,286.67 563.97,307.36 564.48,312.92 565.00,305.85 565.52,266.38 566.03,325.12 566.55,322.80 567.07,273.46 567.58,196.20 568.10,276.78 568.62,405.00 569.13,315.12 569.65,303.09 570.17,280.10 570.68,291.91 571.20,339.80 571.72,303.20 572.23,130.80 572.75,159.60 573.27,269.97 573.78,295.17 574.30,315.65 574.82,317.92 575.33,309.75 575.85,273.58 576.37,311.69 576.88,409.20 577.40,332.04 577.92,286.72 578.43,297.05 578.95,273.44 579.47,304.55 579.98,305.57 580.50,305.07 581.02,291.16 581.53,399.60 582.05,249.65 582.57,321.36 583.08,267.65 583.60,222.00 584.12,294.34 584.63,335.09 585.15,233.09 585.67,343.16 586.18,305.32 586.70,316.01 587.22,282.65 587.73,345.92 588.25,235.64 588.77,409.20 589.28,310.08 589.80,273.56 590.32,315.48 590.83,301.33 591.35,317.98 591.87,284.20 592.38,327.97 592.90,299.14 593.42,276.26 593.93,417.00 594.45,313.63 594.97,278.46 595.48,330.76 596.00,236.67 596.52,345.98 597.03,299.77 597.55,254.65 598.07,356.63 598.58,313.67 599.10,464.40 599.62,305.02 600.13,275.99 600.65,320.16 601.17,328.97 601.68,267.87 602.20,306.83 602.72,272.02 603.23,317.55 603.75,322.92 604.27,295.43 604.78,286.98 605.30,308.05 605.82,288.30 606.33,298.91 606.85,326.72 607.37,273.99 607.88,288.95 608.40,337.57 608.92,304.59 609.43,258.90 609.95,303.83 610.47,292.85 610.98,284.57 611.50,334.99 612.02,317.29 612.53,276.31 613.05,398.40 613.57,280.46 614.08,293.28 614.60,311.86 615.12,291.25 615.63,310.38 616.15,295.22" stroke="#bfbf00"/>
<polyline points="100.00,307.58 100.52,244.13 101.03,314.68 101.55,332.28 102.07,268.44 102.58,320.26 103.10,297.38 103.62,346.00 104.13,251.90 104.65,297.03 105.17,368.68 105.68,387.60 106.20,216.00 106.72,357.71 107.23,325.54 107.75,363.72 108.27,242.15 108.78,294.44 109.30,255.95 109.82,247.24 110.33,350.32 110.85,270.06 111.37,353.65 111.88,300.17 112.40,332.39 112.92,347.93 113.43,288.26 113.95,265.44 114.47,362.96 114.98,228.69 115.50,228.72 116.02,369.12 116.53,287.36 117.05,292.15 117.57,300.41 118.08,254.86 118.60,254.12 119.12,325.58 119.63,306.72 120.15,257.39 120.67,341.43 121.18,265.32 121.70,392.40 122.22,341.62 122.73,260.09 123.25,319.27 123.77,252.57 124.28,358.97 124.80,260.89 125.32,265.13 125.83,204.00 126.35,342.98 126.87,261.16 127.38,337.90 127.90,405.60 128.42,324.07 128.93,262.81 129.45,229.20 129.97,340.79 130.48,293.34 131.00,229.20 131.52,343.64 132.03,330.73 132.55,335.23 133.07,296.57 133.58,320.01 134.10,253.57 134.62,313.53 135.13,344.81 135.65,406.80 136.17,282.60 136.68,307.75 137.20,268.50 137.72,257.30 138.23,307.53 138.75,267.54 139.27,359.26 139.78,273.53 140.30,276.52 140.82,347.07 141.33,205.20 141.85,275.31 142.37,301.19 142.88,384.00 143.40,272.32 143.92,213.60 144.43,287.79 144.95,355.18 145.47,349.35 145.98,249.90 146.50,330.78 147.02,343.86 147.53,358.92 148.05,235.20 148.57,253.54 149.08,406.80 149.60,277.73 150.12,314.76 150.63,280.07 151.15,344.34 151.67,268.70 152.18,219.60 152.70,404.40 153.22,357.27 153.73,122.40 154.25,289.30 154.77,371.28 155.28,225.00 155.80,335.67 156.32,279.77 156.83,224.16 157.35,368.37 157.87,337.11 158.38,250.29 158.90,258.30 159.42,346.45 159.93,241.68 160.45,354.89 160.97,254.39 161.48,280.86 162.00,370.80 162.52,231.00 163.03,245.71 163.55,345.71 164.07,337.55 164.58,253.76 165.10,341.47 165.62,213.60 166.13,283.59 166.65,462.00 167.17,272.90 167.68,310.34 168.20,238.78 168.72,331.47 169.23,265.69 169.75,307.65 170.27,252.20 170.78,328.27 171.30,360.97 171.82,344.58 172.33,277.16 172.85,342.47 173.37,282.22 173.88,320.95 174.40,348.99 174.92,256.58 175.43,342.75 175.95,356.40 176.47,290.58 176.98,305.10 177.50,264.03 178.02,230.61 178.53,317.40 179.05,256.29 179.57,245.58 180.08,353.84 180.60,319.34 181.12,269.64 181.63,342.81 182.15,281.04 182.67,314.21 183.18,311.72 183.70,269.91 184.22,256.93 184.73,334.15 185.25,235.20 185.77,275.84 186.28,280.30 186.80,351.78 187.32,266.38 187.83,336.58 188.35,244.87 188.87,244.39 189.38,234.00 189.90,254.16 190.42,339.50 190.93,336.21 191.45,258.20 191.97,353.12 192.48,229.20 193.00,360.00 193.52,262.92 194.03,359.79 194.55,299.37 195.07,338.93 195.58,235.20 196.10,312.22 196.62,366.28 197.13,336.52 197.65,269.65 198.17,375.60 198.68,246.69 199.20,345.31 199.72,321.43 200.23,262.80 200.75,250.75 201.27,245.70 201.78,217.20 202.30,288.78 202.82,322.07 203.33,283.77 203.85,226.20 204.37,352.46 204.88,339.72 205.40,267.43 205.92,332.98 206.43,163.80 206.95,384.00 207.47,245.88 207.98,346.64 208.50,275.40 209.02,238.75 209.53,317.79 210.05,280.14 210.57,330.77 211.08,211.20 211.60,271.39 212.12,370.80 212.63,357.65 213.15,336.93 213.67,251.65 214.18,301.70 214.70,279.72 215.22,359.66 215.73,291.87 216.25,355.15 216.77,217.20 217.28,343.72 217.80,276.70 218.32,257.61 218.83,385.20 219.35,217.20 219.87,246.05 220.38,328.37 220.90,366.76 221.42,321.01 221.93,314.14 222.45,261.96 222.97,337.01 223.48,426.00 224.00,204.00 224.52,253.95 225.03,333.18 225.55,217.92 226.07,247.96 226.58,349.78 227.10,276.95 227.62,281.23 228.13,335.86 228.65,258.06 229.17,210.90 229.68,326.31 230.20,341.92 230.72,261.77 231.23,312.35 231.75,170.40 232.27,308.41 232.78,181.20 233.30,399.60 233.82,283.40 234.33,337.26 234.85,295.73 235.37,316.56 235.88,254.00 236.40,284.49 236.92,396.00 237.43,333.59 237.95,270.56 238.47,338.12 238.98,347.66 239.50,351.25 240.02,255.32 240.53,323.82 241.05,241.70 241.57,412.80 242.08,296.13 242.60,349.14 243.12,255.50 243.63,237.23 244.15,258.86 244.67,237.60 245.18,336.57 245.70,286.27 246.22,272.30 246.73,356.45 247.25,352.76 247.77,351.28 248.28,281.08 248.80,354.00 249.32,280.65 249.83,339.03 250.35,319.98 250.87,323.23 251.38,240.93 251.90,305.16 252.42,291.43 252.93,218.40 253.45,335.40 253.97,261.84 254.48,309.07 255.00,259.99 255.52,264.14 256.03,216.00 256.55,284.02 257.07,259.36 257.58,346.42 258.10,364.80 258.62,326.89 259.13,278.75 259.65,239.59 260.17,335.91 260.68,299.12 261.20,299.71 261.72,266.57 262.23,321.88 262.75,229.20 263.27,353.36 263.78,298.87 264.30,318.39 264.82,441.60 265.33,190.80 265.85,257.55 266.37,177.60 266.88,285.98 267.40,422.40 267.92,235.15 268.43,345.42 268.95,255.29 269.47,220.80 269.98,336.41 270.50,252.09 271.02,207.60 271.53,391.20 272.05,357.22 272.57,334.05 273.08,283.85 273.60,228.00 274.12,237.21 274.63,254.86 275.15,360.74 275.67,326.65 276.18,323.66 276.70,372.00 277.22,349.62 277.73,258.87 278.25,337.76 278.77,240.99 279.28,320.62 279.80,212.40 280.32,279.19 280.83,332.14 281.35,335.38 281.87,256.62 282.38,258.32 282.90,235.21 283.42,322.29 283.93,231.67 284.45,323.24 284.97,350.96 285.48,286.20 286.00,260.13 286.52,335.92 287.03,342.35 287.55,353.01 288.07,268.42 288.58,263.01 289.10,339.20 289.62,288.49 290.13,280.86 290.65,300.17 291.17,339.55 291.68,227.55 292.20,219.60 292.72,289.83 293.23,319.38 293.75,248.73 294.27,271.72 294.78,300.05 295.30,286.03 295.82,316.23 296.33,354.00 296.85,250.53 297.37,334.60 297.88,296.82 298.40,328.53 298.92,288.17 299.43,291.55 299.95,297.66 300.47,239.93 300.98,328.84 301.50,233.58 302.02,351.45 302.53,330.74 303.05,364.80 303.57,347.89 304.08,258.55 304.60,362.78 305.12,253.10 305.63,276.00 306.15,345.56 306.67,229.03 307.18,256.61 307.70,328.19 308.22,280.19 308.73,177.60 309.25,376.68 309.77,248.57 310.28,358.29 310.80,309.72 311.32,263.66 311.83,235.20 312.35,253.97 312.87,352.29 313.38,280.66 313.90,324.22 314.42,285.02 314.93,344.46 315.45,300.08 315.97,285.77 316.48,274.47 317.00,360.87 317.52,362.83 318.03,263.46 318.55,307.30 319.07,343.18 319.58,282.34 320.10,341.86 320.62,287.76 321.13,277.52 321.65,252.63 322.17,257.41 322.68,265.44 323.20,359.08 323.72,257.89 324.23,304.84 324.75,136.80 325.27,451.20 325.78,320.69 326.30,248.71 326.82,314.75 327.33,260.96 327.85,322.53 328.37,350.71 328.88,332.92 329.40,344.89 329.92,304.39 330.43,235.42 330.95,292.26 331.47,348.69 331.98,252.68 332.50,352.37 333.02,236.26 333.53,312.12 334.05,255.76 334.57,231.60 335.08,341.41 335.60,254.56 336.12,332.97 336.63,317.76 337.15,266.93 337.67,356.83 338.18,315.43 338.70,367.20 339.22,317.24 339.73,240.64 340.25,307.44 340.77,327.15 341.28,264.88 341.80,336.53 342.32,235.15 342.83,361.67 343.35,280.48 343.87,370.99 344.38,287.44 344.90,214.80 345.42,289.17 345.93,340.16 346.45,351.30 346.97,283.52 347.48,253.62 348.00,334.83 348.52,254.59 349.03,324.13 349.55,246.62 350.07,391.20 350.58,229.20 351.10,244.28 351.62,337.26 352.13,354.58 352.65,237.94 353.17,285.62 353.68,373.80 354.20,282.53 354.72,280.36 355.23,344.57 355.75,258.37 356.27,358.85 356.78,153.60 357.30,427.20 357.82,320.46 358.33,226.07 358.85,366.27 359.37,263.83 359.88,318.09 360.40,273.89 360.92,337.40 361.43,241.46 361.95,256.61 362.47,235.20 362.98,265.49 363.50,343.20 364.02,264.50 364.53,342.70 365.05,335.90 365.57,253.71 366.08,289.55 366.60,338.74 367.12,262.92 367.63,319.48 368.15,220.80 368.67,388.80 369.18,276.23 369.70,326.28 370.22,275.09 370.73,321.20 371.25,247.52 371.77,187.20 372.28,263.20 372.80,253.83 373.32,327.14 373.83,312.86 374.35,251.16 374.87,273.14 375.38,300.32 375.90,288.44 376.42,341.26 376.93,314.09 377.45,275.40 377.97,327.02 378.48,328.21 379.00,229.20 379.52,309.48 380.03,333.78 380.55,246.57 381.07,361.56 381.58,299.08 382.10,295.28 382.62,302.35 383.13,267.33 383.65,253.83 384.17,339.63 384.68,305.55 385.20,335.51 385.72,249.70 386.23,325.21 386.75,243.48 387.27,272.22 387.78,352.56 388.30,234.18 388.82,387.60 389.33,230.40 389.85,341.47 390.37,372.00 390.88,298.70 391.40,258.57 391.92,331.30 392.43,330.49 392.95,287.28 393.47,269.77 393.98,328.90 394.50,287.67 395.02,367.20 395.53,291.82 396.05,326.86 396.57,320.40 397.08,269.51 397.60,342.34 398.12,279.60 398.63,328.16 399.15,217.20 399.67,349.80 400.18,271.91 400.70,382.80 401.22,329.64 401.73,257.75 402.25,294.57 402.77,309.91 403.28,278.30 403.80,357.78 404.32,257.14 404.83,349.70 405.35,205.20 405.87,257.50 406.38,351.55 406.90,248.73 407.42,259.37 407.93,313.19 408.45,279.88 408.97,378.00 409.48,190.80 410.00,248.73 410.52,299.74 411.03,360.76 411.55,257.45 412.07,340.76 412.58,177.60 413.10,424.80 413.62,240.57 414.13,353.09 414.65,292.16 415.17,329.90 415.68,261.00 416.20,358.98 416.72,313.57 417.23,349.38 417.75,230.40 418.27,265.60 418.78,331.71 419.30,245.59 419.82,347.43 420.33,309.29 420.85,283.23 421.37,321.65 421.88,293.05 422.40,327.54 422.92,241.68 423.43,262.82 423.95,254.17 424.47,352.61 424.98,339.09 425.50,305.49 426.02,354.65 426.53,337.15 427.05,352.48 427.57,270.19 428.08,341.69 428.60,271.18 429.12,333.56 429.63,236.37 430.15,328.48 430.67,411.60 431.18,198.00 431.70,273.69 432.22,290.81 432.73,385.32 433.25,275.97 433.77,302.02 434.28,326.25 434.80,251.42 435.32,357.82 435.83,229.20 436.35,260.88 436.87,314.89 437.38,365.15 437.90,266.94 438.42,349.26 438.93,292.98 439.45,282.82 439.97,324.35 440.48,262.75 441.00,319.74 441.52,243.29 442.03,354.23 442.55,369.60 443.07,270.94 443.58,245.65 444.10,326.40 444.62,247.52 445.13,333.16 445.65,372.00 446.17,329.32 446.68,261.99 447.20,250.71 447.72,353.84 448.23,246.32 448.75,347.20 449.27,348.42 449.78,223.80 450.30,365.14 450.82,331.14 451.33,218.40 451.85,317.50 452.37,315.93 452.88,329.63 453.40,267.50 453.92,400.80 454.43,225.00 454.95,347.57 455.47,337.73 455.98,255.91 456.50,358.47 457.02,270.13 457.53,316.15 458.05,271.59 458.57,240.00 459.08,305.66 459.60,242.44 460.12,281.66 460.63,324.73 461.15,318.33 461.67,269.24 462.18,247.67 462.70,252.58 463.22,348.54 463.73,273.47 464.25,359.56 464.77,242.92 465.28,338.71 465.80,276.35 466.32,200.40 466.83,396.00 467.35,336.19 467.87,315.55 468.38,237.38 468.90,329.08 469.42,249.20 469.93,353.84 470.45,294.52 470.97,339.38 471.48,241.46 472.00,333.85 472.52,248.73 473.03,338.70 473.55,247.43 474.07,360.13 474.58,290.51 475.10,263.00 475.62,349.18 476.13,364.80 476.65,314.25 477.17,278.72 477.68,323.74 478.20,279.46 478.72,342.13 479.23,249.77 479.75,352.39 480.27,340.13 480.78,248.10 481.30,307.02 481.82,265.41 482.33,339.30 482.85,256.49 483.37,305.48 483.88,237.86 484.40,378.84 484.92,256.13 485.43,344.43 485.95,253.15 486.47,319.59 486.98,322.68 487.50,345.84 488.02,253.25 488.53,201.60 489.05,260.96 489.57,324.65 490.08,308.46 490.60,360.93 491.12,290.43 491.63,346.48 492.15,347.88 492.67,245.70 493.18,356.96 493.70,244.99 494.22,331.62 494.73,254.34 495.25,306.41 495.77,261.46 496.28,200.40 496.80,256.13 497.32,357.67 497.83,262.11 498.35,360.90 498.87,261.19 499.38,180.00 499.90,328.25 500.42,279.15 500.93,326.92 501.45,260.56 501.97,387.60 502.48,264.19 503.00,332.20 503.52,414.00 504.03,248.51 504.55,271.46 505.07,353.71 505.58,226.20 506.10,325.70 506.62,344.60 507.13,238.23 507.65,327.35 508.17,304.91 508.68,394.80 509.20,223.80 509.72,271.48 510.23,264.67 510.75,326.35 511.27,267.49 511.78,356.92 512.30,241.15 512.82,338.10 513.33,264.98 513.85,364.10 514.37,364.80 514.88,348.57 515.40,261.68 515.92,338.12 516.43,257.31 516.95,333.91 517.47,247.50 517.98,341.19 518.50,347.23 519.02,269.40 519.53,339.27 520.05,254.49 520.57,335.44 521.08,340.88 521.60,243.18 522.12,319.00 522.63,289.25 523.15,252.51 523.67,266.45 524.18,353.44 524.70,269.48 525.22,223.20 525.73,230.73 526.25,348.27 526.77,263.94 527.28,326.38 527.80,384.00 528.32,275.52 528.83,261.77 529.35,241.15 529.87,293.45 530.38,322.50 530.90,257.14 531.42,359.89 531.93,253.49 532.45,327.32 532.97,238.47 533.48,366.00 534.00,267.26 534.52,249.23 535.03,289.48 535.55,372.59 536.07,251.08 536.58,255.62 537.10,325.35 537.62,313.05 538.13,253.74 538.65,421.20 539.17,217.20 539.68,257.78 540.20,350.63 540.72,339.90 541.23,286.81 541.75,352.60 542.27,259.71 542.78,207.60 543.30,308.50 543.82,313.82 544.33,286.52 544.85,340.34 545.37,243.88 545.88,358.00 546.40,435.00 546.92,307.60 547.43,211.20 547.95,331.47 548.47,349.10 548.98,394.80 549.50,248.21 550.02,276.57 550.53,310.95 551.05,278.73 551.57,319.46 552.08,370.30 552.60,262.44 553.12,295.08 553.63,343.26 554.15,248.44 554.67,261.49 555.18,256.85 555.70,351.85 556.22,259.50 556.73,282.65 557.25,248.63 557.77,352.35 558.28,257.11 558.80,351.17 559.32,253.10 559.83,338.40 560.35,325.35 560.87,207.00 561.38,403.20 561.90,246.57 562.42,241.27 562.93,315.64 563.45,260.19 563.97,276.76 564.48,326.79 565.00,259.83 565.52,329.90 566.03,257.35 566.55,344.29 567.07,255.81 567.58,317.93 568.10,333.80 568.62,210.00 569.13,384.00 569.65,360.16 570.17,272.72 570.68,355.22 571.20,202.80 571.72,327.67 572.23,454.80 572.75,343.76 573.27,201.60 573.78,322.33 574.30,267.66 574.82,280.17 575.33,349.38 575.85,253.09 576.37,262.31 576.88,200.40 577.40,275.06 577.92,327.81 578.43,287.71 578.95,264.27 579.47,335.64 579.98,275.86 580.50,277.07 581.02,353.90 581.53,210.00 582.05,257.03 582.57,239.45 583.08,252.36 583.60,376.20 584.12,245.26 584.63,289.40 585.15,296.93 585.67,318.15 586.18,275.85 586.70,325.25 587.22,243.10 587.73,367.28 588.25,258.27 588.77,193.20 589.28,283.79 589.80,340.65 590.32,292.04 590.83,367.74 591.35,262.09 591.87,349.11 592.38,290.31 592.90,355.76 593.42,255.22 593.93,239.63 594.45,331.52 594.97,304.96 595.48,277.94 596.00,312.75 596.52,238.33 597.03,326.31 597.55,271.28 598.07,354.49 598.58,335.14 599.10,263.45 599.62,388.80 600.13,294.47 600.65,303.77 601.17,313.86 601.68,237.48 602.20,349.46 602.72,339.38 603.23,249.19 603.75,447.60 604.27,347.37 604.78,251.64 605.30,348.23 605.82,262.83 606.33,314.67 606.85,271.94 607.37,363.10 607.88,252.48 608.40,278.82 608.92,344.74 609.43,272.21 609.95,278.96 610.47,279.91 610.98,347.10 611.50,340.05 612.02,346.42 612.53,250.78 613.05,238.84 613.57,381.60 614.08,337.23 614.60,264.41 615.12,319.52 615.63,258.46 616.15,402.00" stroke="#000000"/>
<polyline points="100.00,307.12 100.52,259.05 101.03,308.85 101.55,331.24 102.07,270.73 102.58,312.51 103.10,293.84 103.62,341.96 104.13,263.62 104.65,296.10 105.17,349.99 105.68,375.34 106.20,227.76 106.72,333.24 107.23,314.13 107.75,370.80 108.27,259.49 108.78,288.70 109.30,268.11 109.82,258.48 110.33,340.07 110.85,277.11 111.37,341.93 111.88,296.28 112.40,330.06 112.92,334.74 113.43,292.35 113.95,269.84 114.47,346.75 114.98,248.63 115.50,220.80 116.02,376.80 116.53,289.21 117.05,287.67 117.57,303.60 118.08,267.53 118.60,266.75 119.12,312.71 119.63,306.89 120.15,271.17 120.67,334.20 121.18,272.56 121.70,379.46 122.22,334.39 122.73,260.75 123.25,315.68 123.77,263.15 124.28,350.97 124.80,274.29 125.32,265.16 125.83,211.20 126.35,328.96 126.87,269.63 127.38,335.27 127.90,390.82 128.42,315.55 128.93,263.89 129.45,239.11 129.97,326.51 130.48,289.22 131.00,239.11 131.52,331.78 132.03,323.70 132.55,327.96 133.07,297.28 133.58,312.52 134.10,262.27 134.62,314.95 135.13,331.79 135.65,397.20 136.17,288.29 136.68,309.75 137.20,275.45 137.72,257.73 138.23,317.67 138.75,267.41 139.27,337.80 139.78,289.59 140.30,289.01 140.82,324.44 141.33,216.00 141.85,279.32 142.37,301.79 142.88,372.24 143.40,273.38 143.92,225.70 144.43,289.21 144.95,344.93 145.47,340.02 145.98,259.24 146.50,327.89 147.02,327.42 147.53,343.03 148.05,228.00 148.57,268.90 149.08,400.80 149.60,285.77 150.12,313.73 150.63,291.74 151.15,326.58 151.67,280.50 152.18,230.86 152.70,389.78 153.22,334.33 153.73,157.20 154.25,298.16 154.77,379.20 155.28,235.50 155.80,336.54 156.32,281.88 156.83,250.14 157.35,339.81 157.87,332.17 158.38,264.74 158.90,260.99 159.42,338.23 159.93,257.21 160.45,335.71 160.97,273.89 161.48,276.34 162.00,360.89 162.52,240.66 163.03,256.25 163.55,330.20 164.07,332.36 164.58,266.18 165.10,330.81 165.62,222.00 166.13,295.79 166.65,434.40 167.17,277.64 167.68,305.67 168.20,244.24 168.72,338.52 169.23,274.00 169.75,305.71 170.27,264.89 170.78,317.79 171.30,338.56 171.82,346.33 172.33,277.35 172.85,334.52 173.37,284.09 173.88,320.95 174.40,342.45 174.92,258.68 175.43,327.65 175.95,348.50 176.47,297.62 176.98,302.04 177.50,273.68 178.02,245.65 178.53,300.76 179.05,276.35 179.57,258.16 180.08,347.30 180.60,310.44 181.12,278.49 181.63,326.18 182.15,292.67 182.67,303.30 183.18,323.51 183.70,269.24 184.22,266.13 184.73,327.27 185.25,244.27 185.77,275.46 186.28,291.33 186.80,336.79 187.32,274.94 187.83,320.87 188.35,268.32 188.87,253.55 189.38,243.24 189.90,280.20 190.42,314.09 190.93,329.68 191.45,267.71 191.97,353.96 192.48,239.11 193.00,351.60 193.52,280.95 194.03,343.16 194.55,288.47 195.07,332.85 195.58,244.27 196.10,310.08 196.62,353.94 197.13,330.32 197.65,272.95 198.17,365.02 198.68,259.38 199.20,332.29 199.72,316.16 200.23,274.49 200.75,261.79 201.27,260.33 201.78,228.79 202.30,295.21 202.82,315.30 203.33,288.21 203.85,236.53 204.37,339.57 204.88,335.44 205.40,272.73 205.92,328.19 206.43,182.40 206.95,372.24 207.47,262.12 207.98,331.42 208.50,282.51 209.02,254.33 209.53,310.09 210.05,291.06 210.57,318.82 211.08,229.20 211.60,284.16 212.12,360.89 212.63,343.35 213.15,324.96 213.67,273.47 214.18,305.41 214.70,279.97 215.22,343.19 215.73,292.65 216.25,333.35 216.77,228.79 217.28,337.42 217.80,286.87 218.32,263.84 218.83,373.27 219.35,228.79 219.87,249.78 220.38,325.38 220.90,349.28 221.42,329.63 221.93,297.47 222.45,277.60 222.97,316.43 223.48,410.40 224.00,211.20 224.52,249.97 225.03,345.13 225.55,208.80 226.07,263.74 226.58,327.40 227.10,289.96 227.62,283.10 228.13,335.37 228.65,265.48 229.17,201.00 229.68,322.46 230.20,332.87 230.72,269.63 231.23,315.60 231.75,189.60 232.27,314.24 232.78,197.83 233.30,385.66 233.82,291.16 234.33,322.85 234.85,294.23 235.37,318.97 235.88,258.84 236.40,289.84 236.92,382.56 237.43,324.51 237.95,278.34 238.47,333.00 238.98,335.91 239.50,341.95 240.02,256.62 240.53,322.43 241.05,248.21 241.57,382.80 242.08,305.63 242.60,330.21 243.12,258.46 243.63,266.66 244.15,257.85 244.67,246.34 245.18,315.57 245.70,297.03 246.22,277.15 246.73,355.02 247.25,331.31 247.77,341.12 248.28,275.77 248.80,360.00 249.32,284.20 249.83,333.20 250.35,311.52 250.87,317.26 251.38,260.25 251.90,299.65 252.42,291.21 252.93,223.80 253.45,320.85 253.97,275.21 254.48,300.20 255.00,275.79 255.52,269.70 256.03,227.76 256.55,278.65 257.07,271.60 257.58,331.21 258.10,355.73 258.62,332.58 259.13,276.79 259.65,254.70 260.17,325.60 260.68,296.51 261.20,294.94 261.72,281.10 262.23,318.46 262.75,239.11 263.27,332.77 263.78,297.05 264.30,317.49 264.82,432.00 265.33,206.09 265.85,264.13 266.37,184.80 266.88,283.12 267.40,412.80 267.92,260.15 268.43,327.17 268.95,270.83 269.47,231.89 269.98,328.12 270.50,265.73 271.02,220.54 271.53,378.43 272.05,337.89 272.57,330.76 273.08,282.19 273.60,238.08 274.12,256.80 274.63,256.37 275.15,357.60 275.67,326.73 276.18,317.77 276.70,361.92 277.22,340.97 277.73,261.25 278.25,337.56 278.77,250.70 279.28,314.68 279.80,224.66 280.32,280.26 280.83,321.85 281.35,335.75 281.87,260.76 282.38,261.54 282.90,252.22 283.42,318.71 283.93,259.92 284.45,309.60 284.97,341.05 285.48,283.78 286.00,270.60 286.52,328.55 287.03,329.86 287.55,336.77 288.07,279.47 288.58,277.29 289.10,331.77 289.62,286.50 290.13,288.57 290.65,298.40 291.17,328.64 291.68,247.67 292.20,226.80 292.72,290.62 293.23,315.58 293.75,256.69 294.27,279.81 294.78,303.60 295.30,276.51 295.82,323.10 296.33,360.00 296.85,272.77 297.37,319.60 297.88,306.39 298.40,309.99 298.92,293.03 299.43,289.29 299.95,308.80 300.47,248.73 300.98,323.44 301.50,226.20 302.02,341.75 302.53,315.25 303.05,355.73 303.57,334.26 304.08,268.65 304.60,340.30 305.12,276.44 305.63,274.86 306.15,336.53 306.67,250.65 307.18,259.27 307.70,321.53 308.22,289.28 308.73,198.00 309.25,385.20 309.77,261.24 310.28,342.85 310.80,312.03 311.32,277.21 311.83,228.00 312.35,261.15 312.87,335.77 313.38,288.80 313.90,319.69 314.42,287.84 314.93,329.60 315.45,300.39 315.97,294.06 316.48,288.08 317.00,331.75 317.52,357.87 318.03,274.97 318.55,310.37 319.07,330.24 319.58,278.35 320.10,335.78 320.62,288.18 321.13,274.28 321.65,278.89 322.17,261.72 322.68,276.15 323.20,344.53 323.72,275.23 324.23,296.98 324.75,157.20 325.27,427.20 325.78,314.63 326.30,255.08 326.82,305.22 327.33,273.03 327.85,324.56 328.37,343.36 328.88,316.77 329.40,334.55 329.92,305.68 330.43,251.19 330.95,291.34 331.47,341.09 331.98,247.73 332.50,352.52 333.02,258.21 333.53,303.02 334.05,266.75 334.57,241.18 335.08,338.67 335.60,261.88 336.12,325.88 336.63,320.97 337.15,270.32 337.67,343.23 338.18,313.38 338.70,357.79 339.22,308.84 339.73,257.46 340.25,295.68 340.77,326.67 341.28,272.41 341.80,332.81 342.32,244.33 342.83,348.53 343.35,284.14 343.87,351.90 344.38,286.89 344.90,226.73 345.42,299.95 345.93,332.83 346.45,331.26 346.97,288.89 347.48,263.11 348.00,331.66 348.52,265.53 349.03,324.04 349.55,257.52 350.07,378.43 350.58,239.11 351.10,255.13 351.62,329.99 352.13,336.19 352.65,264.04 353.17,281.26 353.68,363.47 354.20,284.98 354.72,287.90 355.23,336.89 355.75,258.86 356.27,347.38 356.78,168.00 357.30,408.00 357.82,315.79 358.33,242.26 358.85,350.56 359.37,278.49 359.88,314.04 360.40,271.34 360.92,337.64 361.43,247.41 361.95,271.56 362.47,244.27 362.98,276.54 363.50,329.14 364.02,281.01 364.53,324.43 365.05,320.44 365.57,274.13 366.08,302.53 366.60,312.51 367.12,277.19 367.63,308.89 368.15,234.00 368.67,376.37 369.18,280.61 369.70,328.59 370.22,273.86 370.73,317.49 371.25,257.49 371.77,205.20 372.28,266.01 372.80,262.29 373.32,317.52 373.83,325.11 374.35,249.56 374.87,286.54 375.38,296.30 375.90,299.26 376.42,327.35 376.93,318.13 377.45,267.73 377.97,321.80 378.48,320.99 379.00,239.11 379.52,308.48 380.03,325.12 380.55,262.44 381.07,368.40 381.58,301.06 382.10,294.84 382.62,304.96 383.13,272.48 383.65,258.67 384.17,336.56 384.68,293.56 385.20,331.45 385.72,265.90 386.23,320.04 386.75,252.49 387.27,288.61 387.78,332.86 388.30,250.20 388.82,375.34 389.33,240.14 389.85,340.85 390.37,355.27 390.88,303.53 391.40,258.41 391.92,330.27 392.43,324.65 392.95,283.66 393.47,286.83 393.98,314.76 394.50,294.70 395.02,357.79 395.53,287.25 396.05,320.21 396.57,321.74 397.08,274.74 397.60,325.95 398.12,294.37 398.63,320.23 399.15,228.79 399.67,334.09 400.18,272.64 400.70,371.21 401.22,319.61 401.73,266.68 402.25,291.99 402.77,316.46 403.28,285.36 403.80,336.29 404.32,275.37 404.83,330.17 405.35,222.00 405.87,268.91 406.38,325.01 406.90,260.90 407.42,276.63 407.93,302.33 408.45,292.13 408.97,367.08 409.48,210.00 410.00,269.07 410.52,291.59 411.03,349.36 411.55,266.23 412.07,328.16 412.58,196.20 413.10,415.20 413.62,259.18 414.13,349.50 414.65,285.82 415.17,331.96 415.68,262.11 416.20,334.93 416.72,325.22 417.23,335.60 417.75,240.14 418.27,272.65 418.78,323.30 419.30,264.63 419.82,332.72 420.33,298.45 420.85,294.34 421.37,309.84 421.88,295.96 422.40,334.28 422.92,235.20 423.43,272.30 423.95,254.26 424.47,354.79 424.98,332.11 425.50,292.17 426.02,342.91 426.53,324.52 427.05,349.72 427.57,267.72 428.08,340.22 428.60,270.30 429.12,328.06 429.63,260.17 430.15,312.48 430.67,398.40 431.18,216.00 431.70,275.28 432.22,289.77 432.73,394.80 433.25,280.85 433.77,306.69 434.28,324.86 434.80,259.37 435.32,342.53 435.83,239.11 436.35,265.03 436.87,318.94 437.38,345.68 437.90,266.09 438.42,347.20 438.93,295.03 439.45,284.25 439.97,315.08 440.48,281.76 441.00,307.56 441.52,264.36 442.03,338.16 442.55,359.86 443.07,277.72 443.58,254.01 444.10,318.71 444.62,268.29 445.13,318.89 445.65,361.92 446.17,327.88 446.68,270.45 447.20,252.28 447.72,351.28 448.23,257.88 448.75,333.64 449.27,339.94 449.78,234.47 450.30,349.19 450.82,317.00 451.33,229.82 451.85,327.61 452.37,294.56 452.88,321.97 453.40,278.55 453.92,385.20 454.43,235.50 454.95,338.65 455.47,330.42 455.98,257.39 456.50,344.22 457.02,294.34 457.53,298.08 458.05,277.93 458.57,248.40 459.08,300.89 459.60,258.74 460.12,279.87 460.63,322.04 461.15,313.99 461.67,275.76 462.18,256.62 462.70,274.51 463.22,335.73 463.73,273.47 464.25,349.92 464.77,251.81 465.28,329.50 465.80,280.67 466.32,202.80 466.83,390.00 467.35,329.23 467.87,308.83 468.38,256.72 468.90,323.48 469.42,258.93 469.93,337.82 470.45,298.20 470.97,324.18 471.48,259.19 472.00,319.23 472.52,270.41 473.03,327.63 473.55,255.83 474.07,344.82 474.58,297.70 475.10,272.00 475.62,335.25 476.13,355.73 476.65,310.48 477.17,277.39 477.68,324.51 478.20,287.16 478.72,330.13 479.23,267.67 479.75,329.65 480.27,343.60 480.78,253.69 481.30,301.60 481.82,277.69 482.33,329.21 482.85,267.91 483.37,289.34 483.88,265.25 484.40,387.60 484.92,266.72 485.43,327.52 485.95,270.12 486.47,315.02 486.98,316.94 487.50,343.72 488.02,253.15 488.53,219.60 489.05,268.60 489.57,317.12 490.08,309.96 490.60,345.37 491.12,300.84 491.63,339.00 492.15,328.52 492.67,260.48 493.18,341.95 493.70,253.14 494.22,326.39 494.73,262.48 495.25,311.61 495.77,272.45 496.28,223.80 496.80,275.13 497.32,341.75 497.83,266.36 498.35,350.79 498.87,269.22 499.38,205.20 499.90,322.03 500.42,295.22 500.93,312.69 501.45,270.12 501.97,375.34 502.48,270.32 503.00,328.22 503.52,408.00 504.03,267.46 504.55,279.88 505.07,337.83 505.58,236.53 506.10,327.49 506.62,333.31 507.13,257.95 507.65,309.86 508.17,312.60 508.68,384.00 509.20,234.47 509.72,271.63 510.23,276.81 510.75,331.11 511.27,257.47 511.78,349.05 512.30,251.13 512.82,328.22 513.33,276.56 513.85,347.09 514.37,355.73 514.88,327.90 515.40,276.00 515.92,327.33 516.43,263.28 516.95,325.34 517.47,268.80 517.98,329.85 518.50,331.02 519.02,281.28 519.53,323.19 520.05,268.82 520.57,330.94 521.08,340.54 521.60,244.59 522.12,309.43 522.63,301.01 523.15,262.43 523.67,269.78 524.18,351.78 524.70,264.23 525.22,233.95 525.73,246.01 526.25,338.78 526.77,278.10 527.28,315.87 527.80,372.24 528.32,279.88 528.83,259.30 529.35,264.00 529.87,295.46 530.38,318.20 530.90,261.58 531.42,352.17 531.93,260.81 532.45,320.40 532.97,253.08 533.48,356.76 534.00,267.27 534.52,266.50 535.03,287.06 535.55,355.76 536.07,258.79 536.58,263.88 537.10,326.61 537.62,309.93 538.13,260.51 538.65,402.00 539.17,228.79 539.68,274.63 540.20,333.64 540.72,332.05 541.23,288.75 541.75,339.34 542.27,265.02 542.78,222.00 543.30,313.89 543.82,308.66 544.33,287.89 544.85,332.72 545.37,248.51 545.88,352.18 546.40,397.20 546.92,299.29 547.43,223.63 547.95,334.52 548.47,332.12 548.98,381.53 549.50,251.63 550.02,284.66 550.53,310.39 551.05,286.92 551.57,301.89 552.08,351.43 552.60,271.74 553.12,304.79 553.63,341.22 554.15,248.67 554.67,274.81 555.18,271.91 555.70,335.21 556.22,267.20 556.73,288.71 557.25,257.64 557.77,346.07 558.28,259.47 558.80,345.64 559.32,265.14 559.83,316.53 560.35,325.09 560.87,220.02 561.38,384.00 561.90,251.54 562.42,258.82 562.93,305.65 563.45,275.25 563.97,287.65 564.48,314.59 565.00,263.14 565.52,333.00 566.03,262.44 566.55,332.26 567.07,263.34 567.58,318.11 568.10,325.29 568.62,222.60 569.13,372.24 569.65,346.91 570.17,284.06 570.68,345.52 571.20,216.41 571.72,324.50 572.23,422.40 572.75,339.18 573.27,215.38 573.78,320.05 574.30,277.85 574.82,288.82 575.33,330.66 575.85,265.53 576.37,270.40 576.88,216.00 577.40,286.42 577.92,321.19 578.43,287.34 578.95,274.45 579.47,323.95 579.98,278.98 580.50,279.40 581.02,352.79 581.53,222.60 582.05,263.20 582.57,253.50 583.08,268.10 583.60,365.53 584.12,263.78 584.63,290.71 585.15,292.68 585.67,319.57 586.18,272.17 586.70,334.26 587.22,247.04 587.73,354.25 588.25,265.86 588.77,208.80 589.28,298.12 589.80,328.75 590.32,303.35 590.83,331.78 591.35,273.67 591.87,346.56 592.38,288.74 592.90,340.75 593.42,271.55 593.93,247.25 594.45,332.41 594.97,300.17 595.48,282.49 596.00,304.60 596.52,256.09 597.03,319.31 597.55,284.23 598.07,331.45 598.58,333.74 599.10,265.68 599.62,376.37 600.13,288.65 600.65,308.88 601.17,298.87 601.68,260.39 602.20,336.79 602.72,330.51 603.23,266.24 603.75,417.60 604.27,331.26 604.78,269.58 605.30,334.28 605.82,268.56 606.33,315.41 606.85,276.65 607.37,354.74 607.88,260.59 608.40,283.34 608.92,329.47 609.43,289.77 609.95,276.61 610.47,279.01 610.98,338.75 611.50,328.25 612.02,343.38 612.53,250.08 613.05,259.17 613.57,370.18 614.08,324.89 614.60,273.72 615.12,314.92 615.63,265.46 616.15,400.80" stroke="#0000ff"/>
<polyline points="100.00,304.10 100.52,261.14 101.03,294.37 101.55,338.94 102.07,265.83 102.58,322.43 103.10,298.96 103.62,312.72 104.13,289.72 104.65,286.88 105.17,345.91 105.68,354.31 106.20,247.92 106.72,298.62 107.23,317.61 107.75,349.56 108.27,289.03 108.78,297.30 109.30,286.37 109.82,260.60 110.33,333.70 110.85,268.04 111.37,341.29 111.88,287.23 112.40,332.01 112.92,304.90 113.43,304.84 113.95,297.87 114.47,342.79 114.98,276.21 115.50,244.56 116.02,353.76 116.53,278.40 117.05,295.32 117.57,317.68 118.08,269.78 118.60,262.56 119.12,328.00 119.63,284.13 120.15,267.06 120.67,326.89 121.18,258.22 121.70,357.29 122.22,337.50 122.73,273.33 123.25,322.10 123.77,278.90 124.28,342.99 124.80,277.12 125.32,284.74 125.83,225.60 126.35,339.79 126.87,259.67 127.38,316.14 127.90,365.47 128.42,298.60 128.93,282.44 129.45,256.10 129.97,319.11 130.48,306.54 131.00,256.10 131.52,316.74 132.03,330.80 132.55,300.61 133.07,303.94 133.58,294.41 134.10,286.14 134.62,297.21 135.13,300.75 135.65,366.22 136.17,282.79 136.68,296.31 137.20,296.80 137.72,293.65 138.23,302.92 138.75,304.35 139.27,306.14 139.78,310.33 140.30,302.30 140.82,314.30 141.33,241.22 141.85,275.44 142.37,311.69 142.88,352.08 143.40,294.03 143.92,246.43 144.43,301.79 144.95,318.61 145.47,332.86 145.98,272.99 146.50,326.13 147.02,332.21 147.53,322.69 148.05,249.60 148.57,289.77 149.08,366.22 149.60,271.49 150.12,301.38 150.63,281.33 151.15,336.24 151.67,267.69 152.18,250.15 152.70,364.73 153.22,310.22 153.73,192.00 154.25,297.14 154.77,355.44 155.28,253.50 155.80,308.93 156.32,310.03 156.83,248.96 157.35,341.81 157.87,306.96 158.38,276.04 158.90,274.32 159.42,345.54 159.93,272.01 160.45,309.42 160.97,287.08 161.48,279.48 162.00,343.90 162.52,257.22 163.03,286.16 163.55,306.06 164.07,337.14 164.58,274.72 165.10,343.14 165.62,246.43 166.13,299.57 166.65,392.40 167.17,283.65 167.68,304.81 168.20,289.42 168.72,307.67 169.23,302.29 169.75,286.95 170.27,289.17 170.78,335.41 171.30,336.62 171.82,299.38 172.33,294.59 172.85,317.69 173.37,294.77 173.88,298.37 174.40,331.16 174.92,268.87 175.43,341.49 175.95,334.97 176.47,277.23 176.98,289.73 177.50,286.97 178.02,263.13 178.53,318.28 179.05,264.49 179.57,284.29 180.08,318.60 180.60,331.12 181.12,268.16 181.63,332.19 182.15,301.48 182.67,296.83 183.18,334.97 183.70,289.66 184.22,306.54 184.73,311.22 185.25,259.82 185.77,262.77 186.28,299.74 186.80,349.58 187.32,267.76 187.83,307.68 188.35,255.90 188.87,262.72 189.38,259.08 189.90,267.81 190.42,318.92 190.93,306.52 191.45,272.60 191.97,339.32 192.48,256.10 193.00,337.20 193.52,297.38 194.03,344.34 194.55,321.01 195.07,338.85 195.58,259.82 196.10,312.78 196.62,321.67 197.13,317.98 197.65,297.64 198.17,346.87 198.68,283.24 199.20,331.64 199.72,326.83 200.23,266.60 200.75,278.80 201.27,251.41 201.78,248.66 202.30,278.11 202.82,301.31 203.33,288.48 203.85,254.24 204.37,315.98 204.88,327.44 205.40,294.99 205.92,298.20 206.43,217.20 206.95,352.08 207.47,267.44 207.98,330.58 208.50,278.30 209.02,271.18 209.53,288.17 210.05,282.51 210.57,311.84 211.08,244.94 211.60,262.38 212.12,343.90 212.63,316.30 213.15,323.92 213.67,261.99 214.18,302.56 214.70,275.77 215.22,312.99 215.73,313.56 216.25,325.25 216.77,248.66 217.28,330.58 217.80,272.47 218.32,268.22 218.83,352.82 219.35,248.66 219.87,264.69 220.38,324.85 220.90,324.02 221.42,322.57 221.93,310.49 222.45,264.60 222.97,327.47 223.48,378.12 224.00,217.20 224.52,279.54 225.03,323.03 225.55,236.16 226.07,264.16 226.58,336.46 227.10,280.14 227.62,280.31 228.13,321.61 228.65,290.17 229.17,230.70 229.68,319.67 230.20,312.30 230.72,284.28 231.23,308.68 231.75,218.40 232.27,326.86 232.78,226.34 233.30,361.75 233.82,280.61 234.33,311.36 234.85,318.11 235.37,296.10 235.88,304.46 236.40,279.94 236.92,359.52 237.43,307.72 237.95,272.71 238.47,316.27 238.98,330.90 239.50,318.89 240.02,259.22 240.53,333.54 241.05,261.52 241.57,369.94 242.08,309.83 242.60,333.99 243.12,267.05 243.63,256.38 244.15,296.54 244.67,261.31 245.18,321.93 245.70,288.49 246.22,290.30 246.73,314.87 247.25,328.90 247.77,307.18 248.28,270.59 248.80,342.00 249.32,309.05 249.83,308.31 250.35,291.08 250.87,330.97 251.38,258.53 251.90,311.91 252.42,274.74 252.93,249.41 253.45,324.36 253.97,265.39 254.48,291.23 255.00,308.54 255.52,273.67 256.03,247.92 256.55,287.95 257.07,261.34 257.58,316.01 258.10,340.18 258.62,308.01 259.13,308.74 259.65,248.31 260.17,335.63 260.68,295.01 261.20,298.91 261.72,293.14 262.23,280.70 262.75,256.10 263.27,315.51 263.78,311.43 264.30,293.46 264.82,392.40 265.33,232.30 265.85,290.20 266.37,210.00 266.88,264.27 267.40,375.89 267.92,257.92 268.43,333.13 268.95,252.81 269.47,250.90 269.98,305.93 270.50,290.99 271.02,242.71 271.53,356.54 272.05,317.67 272.57,323.05 273.08,304.74 273.60,255.36 274.12,257.84 274.63,288.80 275.15,315.87 275.67,326.65 276.18,300.00 276.70,344.64 277.22,321.70 277.73,298.73 278.25,317.09 278.77,277.43 279.28,292.20 279.80,245.69 280.32,270.51 280.83,337.56 281.35,303.86 281.87,282.33 282.38,252.50 282.90,285.64 283.42,314.82 283.93,241.72 284.45,323.28 284.97,310.99 285.48,272.92 286.00,270.38 286.52,337.20 287.03,325.84 287.55,329.56 288.07,293.16 288.58,254.65 289.10,336.78 289.62,275.10 290.13,298.24 290.65,284.73 291.17,315.14 291.68,277.13 292.20,250.15 292.72,282.60 293.23,308.92 293.75,274.20 294.27,269.76 294.78,320.96 295.30,301.89 295.82,283.55 296.33,342.00 296.85,259.42 297.37,304.52 297.88,317.41 298.40,314.06 298.92,274.42 299.43,281.62 299.95,307.91 300.47,260.33 300.98,304.74 301.50,248.34 302.02,319.58 302.53,320.13 303.05,340.18 303.57,334.54 304.08,264.31 304.60,351.39 305.12,277.72 305.63,295.19 306.15,310.24 306.67,281.03 307.18,277.68 307.70,296.57 308.22,314.71 308.73,225.00 309.25,359.64 309.77,295.63 310.28,313.48 310.80,319.12 311.32,295.24 311.83,249.60 312.35,287.47 312.87,319.40 313.38,292.39 313.90,294.66 314.42,305.27 314.93,310.62 315.45,320.39 315.97,283.17 316.48,308.38 317.00,310.37 317.52,343.36 318.03,279.23 318.55,290.27 319.07,305.71 319.58,271.89 320.10,322.51 320.62,282.84 321.13,298.64 321.65,295.96 322.17,264.93 322.68,268.83 323.20,333.48 323.72,271.47 324.23,294.82 324.75,196.80 325.27,382.80 325.78,302.79 326.30,273.48 326.82,306.55 327.33,294.96 327.85,304.01 328.37,339.45 328.88,311.28 329.40,332.74 329.92,278.02 330.43,289.71 330.95,281.92 331.47,348.12 331.98,247.72 332.50,346.60 333.02,243.78 333.53,319.00 334.05,262.11 334.57,257.59 335.08,330.67 335.60,284.70 336.12,325.07 336.63,298.99 337.15,310.39 337.67,346.53 338.18,295.64 338.70,341.66 339.22,330.12 339.73,269.09 340.25,306.96 340.77,290.66 341.28,295.31 341.80,332.17 342.32,273.98 342.83,326.33 343.35,312.46 343.87,327.22 344.38,309.86 344.90,247.18 345.42,313.33 345.93,309.96 346.45,306.65 346.97,309.68 347.48,269.70 348.00,329.11 348.52,273.03 349.03,315.59 349.55,266.79 350.07,356.54 350.58,256.10 351.10,260.12 351.62,332.96 352.13,299.28 352.65,267.14 353.17,300.05 353.68,345.76 354.20,294.32 354.72,317.79 355.23,326.35 355.75,288.49 356.27,318.40 356.78,202.80 357.30,387.60 357.82,315.42 358.33,242.94 358.85,326.31 359.37,286.88 359.88,328.27 360.40,267.79 360.92,319.81 361.43,270.48 361.95,284.93 362.47,259.82 362.98,284.07 363.50,322.20 364.02,309.22 364.53,299.67 365.05,320.58 365.57,267.15 366.08,285.78 366.60,323.49 367.12,295.56 367.63,282.34 368.15,250.90 368.67,355.06 369.18,299.28 369.70,309.23 370.22,292.09 370.73,320.26 371.25,269.22 371.77,230.06 372.28,272.80 372.80,258.94 373.32,316.20 373.83,304.86 374.35,287.64 374.87,276.22 375.38,283.73 375.90,310.12 376.42,292.08 376.93,321.50 377.45,279.20 377.97,323.38 378.48,323.57 379.00,256.10 379.52,335.16 380.03,312.24 380.55,257.74 381.07,347.88 381.58,288.37 382.10,315.03 382.62,293.54 383.13,267.39 383.65,295.25 384.17,301.23 384.68,303.64 385.20,312.54 385.72,276.33 386.23,308.62 386.75,277.78 387.27,262.02 387.78,333.67 388.30,274.95 388.82,354.31 389.33,256.85 389.85,316.43 390.37,350.89 390.88,281.86 391.40,261.79 391.92,324.94 392.43,312.89 392.95,306.17 393.47,284.65 393.98,324.24 394.50,294.69 395.02,341.66 395.53,283.12 396.05,314.92 396.57,320.22 397.08,283.24 397.60,325.41 398.12,269.70 398.63,328.49 399.15,248.66 399.67,348.64 400.18,273.33 400.70,351.34 401.22,296.92 401.73,267.27 402.25,289.20 402.77,310.57 403.28,287.82 403.80,331.58 404.32,265.36 404.83,336.49 405.35,241.22 405.87,258.96 406.38,316.06 406.90,283.00 407.42,279.96 407.93,313.12 408.45,272.90 408.97,348.36 409.48,232.30 410.00,296.61 410.52,289.43 411.03,341.12 411.55,297.27 412.07,303.49 412.58,230.40 413.10,377.38 413.62,248.98 414.13,337.30 414.65,286.88 415.17,318.61 415.68,272.84 416.20,311.39 416.72,300.31 417.23,318.41 417.75,256.85 418.27,310.06 418.78,338.34 419.30,259.76 419.82,327.33 420.33,296.24 420.85,281.11 421.37,316.19 421.88,306.79 422.40,315.00 422.92,254.64 423.43,284.17 423.95,263.54 424.47,327.18 424.98,290.79 425.50,312.56 426.02,344.35 426.53,298.82 427.05,330.54 427.57,284.20 428.08,329.94 428.60,298.50 429.12,302.80 429.63,248.90 430.15,290.16 430.67,372.00 431.18,236.76 431.70,272.64 432.22,311.43 432.73,366.36 433.25,295.28 433.77,283.57 434.28,313.99 434.80,256.42 435.32,350.39 435.83,256.10 436.35,259.61 436.87,327.43 437.38,332.37 437.90,270.06 438.42,342.82 438.93,274.23 439.45,301.38 439.97,325.21 440.48,289.52 441.00,288.96 441.52,286.34 442.03,307.94 442.55,343.15 443.07,274.28 443.58,276.23 444.10,319.12 444.62,294.46 445.13,328.10 445.65,344.64 446.17,299.23 446.68,288.27 447.20,299.07 447.72,335.46 448.23,280.08 448.75,297.79 449.27,324.30 449.78,252.76 450.30,345.71 450.82,297.96 451.33,249.41 451.85,331.67 452.37,297.23 452.88,296.54 453.40,272.42 453.92,362.50 454.43,253.50 454.95,334.73 455.47,296.86 455.98,266.78 456.50,320.23 457.02,293.61 457.53,310.33 458.05,264.84 458.57,262.80 459.08,297.96 459.60,276.24 460.12,296.32 460.63,306.44 461.15,324.68 461.67,272.97 462.18,288.35 462.70,294.82 463.22,344.08 463.73,275.49 464.25,346.80 464.77,264.44 465.28,320.72 465.80,276.08 466.32,222.00 466.83,359.52 467.35,328.62 467.87,306.54 468.38,283.18 468.90,301.97 469.42,293.54 469.93,305.36 470.45,305.91 470.97,312.98 471.48,263.75 472.00,308.43 472.52,280.47 473.03,304.95 473.55,279.55 474.07,340.78 474.58,284.36 475.10,277.70 475.62,337.36 476.13,340.18 476.65,320.42 477.17,268.19 477.68,325.78 478.20,287.65 478.72,328.97 479.23,267.19 479.75,340.29 480.27,300.78 480.78,285.03 481.30,293.40 481.82,304.70 482.33,313.67 482.85,290.61 483.37,286.17 483.88,279.24 484.40,361.32 484.92,266.96 485.43,346.53 485.95,257.74 486.47,304.31 486.98,299.51 487.50,339.60 488.02,300.72 488.53,238.99 489.05,269.77 489.57,290.05 490.08,286.49 490.60,343.16 491.12,289.95 491.63,312.34 492.15,302.69 492.67,271.83 493.18,325.78 493.70,286.19 494.22,317.45 494.73,280.13 495.25,293.35 495.77,290.82 496.28,238.25 496.80,270.97 497.32,313.08 497.83,291.17 498.35,321.85 498.87,274.54 499.38,225.60 499.90,330.82 500.42,274.86 500.93,321.84 501.45,289.04 501.97,354.31 502.48,292.21 503.00,318.23 503.52,370.68 504.03,277.13 504.55,277.84 505.07,349.01 505.58,254.24 506.10,327.67 506.62,335.29 507.13,260.68 507.65,313.69 508.17,295.25 508.68,358.78 509.20,252.76 509.72,262.67 510.23,269.59 510.75,300.41 511.27,293.95 511.78,341.92 512.30,259.73 512.82,322.21 513.33,298.27 513.85,320.55 514.37,340.18 514.88,321.30 515.40,273.30 515.92,341.56 516.43,278.42 516.95,317.71 517.47,265.69 517.98,341.99 518.50,320.99 519.02,274.31 519.53,307.06 520.05,286.12 520.57,327.77 521.08,299.85 521.60,283.99 522.12,306.04 522.63,303.43 523.15,264.27 523.67,283.49 524.18,334.34 524.70,274.84 525.22,252.38 525.73,290.70 526.25,322.94 526.77,275.16 527.28,301.45 527.80,352.08 528.32,269.27 528.83,289.19 529.35,276.94 529.87,315.32 530.38,300.37 530.90,280.56 531.42,330.06 531.93,290.90 532.45,304.31 532.97,270.61 533.48,340.92 534.00,283.43 534.52,283.89 535.03,288.50 535.55,332.54 536.07,287.69 536.58,244.01 537.10,327.75 537.62,292.71 538.13,287.11 538.65,375.14 539.17,248.66 539.68,268.57 540.20,330.04 540.72,306.79 541.23,289.10 541.75,338.61 542.27,262.11 542.78,242.71 543.30,318.12 543.82,297.64 544.33,310.64 544.85,311.96 545.37,276.73 545.88,347.99 546.40,383.70 546.92,282.21 547.43,244.94 547.95,341.26 548.47,314.43 548.98,358.78 549.50,273.10 550.02,280.87 550.53,298.81 551.05,266.90 551.57,310.34 552.08,352.61 552.60,278.26 553.12,293.89 553.63,310.16 554.15,254.78 554.67,292.04 555.18,264.53 555.70,339.45 556.22,266.50 556.73,310.05 557.25,287.95 557.77,308.37 558.28,275.82 558.80,335.38 559.32,258.65 559.83,323.90 560.35,312.65 560.87,242.34 561.38,363.98 561.90,281.86 562.42,260.01 562.93,312.87 563.45,268.32 563.97,308.75 564.48,325.47 565.00,291.24 565.52,308.65 566.03,287.17 566.55,328.87 567.07,296.92 567.58,306.42 568.10,322.03 568.62,244.20 569.13,352.08 569.65,344.05 570.17,278.97 570.68,340.51 571.20,239.74 571.72,314.57 572.23,386.40 572.75,333.79 573.27,238.99 573.78,300.80 574.30,294.90 574.82,278.95 575.33,347.26 575.85,264.60 576.37,295.33 576.88,238.25 577.40,269.42 577.92,340.02 578.43,278.53 578.95,288.24 579.47,295.65 579.98,275.65 580.50,312.03 581.02,333.54 581.53,244.20 582.05,291.79 582.57,272.14 583.08,263.14 583.60,347.24 584.12,284.33 584.63,311.83 585.15,281.79 585.67,319.88 586.18,267.08 586.70,323.51 587.22,277.85 587.73,324.30 588.25,298.40 588.77,233.78 589.28,299.32 589.80,317.22 590.32,286.45 590.83,347.69 591.35,290.41 591.87,308.83 592.38,284.37 592.90,329.85 593.42,268.01 593.93,249.66 594.45,330.26 594.97,286.75 595.48,309.27 596.00,295.75 596.52,287.74 597.03,309.33 597.55,294.80 598.07,301.41 598.58,341.84 599.10,259.23 599.62,355.06 600.13,286.48 600.65,309.00 601.17,331.15 601.68,269.82 602.20,328.21 602.72,307.16 603.23,290.43 603.75,381.60 604.27,333.15 604.78,263.39 605.30,313.65 605.82,282.82 606.33,308.79 606.85,264.54 607.37,316.09 607.88,251.93 608.40,312.80 608.92,300.11 609.43,278.60 609.95,310.03 610.47,298.21 610.98,296.91 611.50,333.44 612.02,341.18 612.53,282.17 613.05,263.82 613.57,350.59 614.08,312.49 614.60,274.00 615.12,307.39 615.63,290.69 616.15,372.00" stroke="#008000"/>
<polyline points="100.00,333.66 100.52,250.37 101.03,321.88 101.55,285.22 102.07,281.76 102.58,323.03 103.10,322.42 103.62,303.00 104.13,313.83 104.65,256.47 105.17,330.64 105.68,266.89 106.20,314.01 106.72,262.53 107.23,325.39 107.75,315.47 108.27,303.63 108.78,321.10 109.30,259.20 109.82,286.73 110.33,309.36 110.85,308.39 111.37,279.55 111.88,296.32 112.40,310.19 112.92,299.90 113.43,293.67 113.95,322.34 114.47,298.03 114.98,312.27 115.50,311.26 116.02,307.47 116.53,275.17 117.05,322.53 117.57,298.44 118.08,312.34 118.60,291.43 119.12,325.83 119.63,309.22 120.15,292.00 120.67,328.65 121.18,288.36 121.70,312.56 122.22,278.86 122.73,306.42 123.25,289.31 123.77,319.40 124.28,346.66 124.80,319.43 125.32,272.84 125.83,319.35 126.35,288.30 126.87,329.34 127.38,296.88 127.90,303.48 128.42,268.76 128.93,303.00 129.45,299.36 129.97,324.41 130.48,326.43 131.00,333.33 131.52,262.09 132.03,291.24 132.55,316.25 133.07,311.68 133.58,281.59 134.10,301.68 134.62,284.97 135.13,322.66 135.65,317.33 136.17,293.03 136.68,282.71 137.20,302.34 137.72,290.81 138.23,313.64 138.75,272.42 139.27,312.96 139.78,282.77 140.30,330.28 140.82,286.08 141.33,306.67 141.85,279.64 142.37,334.54 142.88,282.38 143.40,305.24 143.92,278.19 144.43,311.33 144.95,297.28 145.47,329.40 145.98,290.27 146.50,314.72 147.02,271.94 147.53,321.56 148.05,264.83 148.57,302.48 149.08,300.29 149.60,303.83 150.12,287.66 150.63,306.22 151.15,285.15 151.67,306.46 152.18,291.27 152.70,318.64 153.22,291.78 153.73,298.46 154.25,286.92 154.77,298.29 155.28,264.30 155.80,313.19 156.32,285.35 156.83,302.54 157.35,289.07 157.87,321.28 158.38,310.07 158.90,293.71 159.42,274.49 159.93,310.75 160.45,296.54 160.97,309.01 161.48,299.91 162.00,302.77 162.52,297.91 163.03,299.29 163.55,283.57 164.07,271.71 164.58,278.19 165.10,322.92 165.62,273.61 166.13,342.05 166.65,330.70 167.17,274.37 167.68,315.15 168.20,291.94 168.72,323.91 169.23,266.52 169.75,320.13 170.27,305.80 170.78,278.55 171.30,319.23 171.82,295.61 172.33,307.42 172.85,280.60 173.37,305.76 173.88,271.03 174.40,312.47 174.92,313.19 175.43,294.23 175.95,341.50 176.47,265.97 176.98,316.67 177.50,331.32 178.02,294.76 178.53,325.55 179.05,287.04 179.57,310.84 180.08,293.71 180.60,277.42 181.12,304.61 181.63,313.43 182.15,264.57 182.67,313.73 183.18,287.68 183.70,296.39 184.22,314.71 184.73,324.64 185.25,286.66 185.77,264.96 186.28,305.97 186.80,325.95 187.32,259.67 187.83,310.28 188.35,270.60 188.87,321.50 189.38,284.89 189.90,331.85 190.42,276.97 190.93,310.95 191.45,289.89 191.97,319.93 192.48,264.42 193.00,311.65 193.52,268.06 194.03,319.98 194.55,273.68 195.07,278.96 195.58,329.83 196.10,259.10 196.62,294.42 197.13,304.86 197.65,280.83 198.17,318.24 198.68,274.68 199.20,334.40 199.72,289.84 200.23,314.64 200.75,278.13 201.27,328.38 201.78,284.61 202.30,332.88 202.82,346.30 203.33,283.76 203.85,339.17 204.37,278.23 204.88,320.99 205.40,343.07 205.92,267.00 206.43,319.10 206.95,270.41 207.47,305.31 207.98,303.23 208.50,331.34 209.02,276.36 209.53,342.33 210.05,277.98 210.57,324.95 211.08,280.80 211.60,319.31 212.12,293.81 212.63,288.36 213.15,308.06 213.67,302.66 214.18,300.09 214.70,288.15 215.22,322.04 215.73,315.57 216.25,339.70 216.77,246.00 217.28,318.11 217.80,259.34 218.32,264.82 218.83,287.71 219.35,323.56 219.87,286.76 220.38,317.98 220.90,264.33 221.42,304.31 221.93,311.32 222.45,276.86 222.97,330.35 223.48,275.78 224.00,315.32 224.52,267.94 225.03,314.25 225.55,354.00 226.07,260.16 226.58,323.68 227.10,291.14 227.62,309.21 228.13,294.90 228.65,309.59 229.17,328.63 229.68,300.90 230.20,324.27 230.72,278.38 231.23,295.97 231.75,339.62 232.27,325.93 232.78,319.35 233.30,304.85 233.82,290.75 234.33,321.59 234.85,297.57 235.37,324.68 235.88,293.63 236.40,281.13 236.92,324.23 237.43,288.08 237.95,306.70 238.47,295.62 238.98,283.85 239.50,306.97 240.02,278.95 240.53,271.09 241.05,303.48 241.57,297.71 242.08,321.01 242.60,306.17 243.12,292.74 243.63,296.51 244.15,267.40 244.67,311.07 245.18,287.02 245.70,313.60 246.22,314.55 246.73,298.83 247.25,321.74 247.77,294.20 248.28,303.10 248.80,249.62 249.32,268.52 249.83,301.01 250.35,308.74 250.87,279.39 251.38,331.57 251.90,286.08 252.42,325.49 252.93,317.23 253.45,270.39 253.97,306.68 254.48,294.20 255.00,317.16 255.52,276.98 256.03,313.84 256.55,265.87 257.07,322.66 257.58,285.06 258.10,297.05 258.62,328.24 259.13,325.78 259.65,287.40 260.17,317.71 260.68,297.59 261.20,317.69 261.72,310.88 262.23,295.32 262.75,313.58 263.27,292.28 263.78,288.50 264.30,329.73 264.82,276.16 265.33,326.74 265.85,285.21 266.37,327.78 266.88,292.29 267.40,323.38 267.92,297.70 268.43,320.82 268.95,293.56 269.47,305.03 269.98,324.82 270.50,279.50 271.02,322.79 271.53,283.41 272.05,321.07 272.57,316.79 273.08,285.97 273.60,314.02 274.12,256.24 274.63,293.21 275.15,307.46 275.67,298.05 276.18,294.95 276.70,316.32 277.22,278.74 277.73,322.57 278.25,291.83 278.77,316.64 279.28,267.96 279.80,321.63 280.32,270.47 280.83,306.28 281.35,280.10 281.87,318.17 282.38,295.30 282.90,309.57 283.42,281.23 283.93,299.56 284.45,278.51 284.97,328.10 285.48,281.88 286.00,284.09 286.52,314.58 287.03,286.33 287.55,328.70 288.07,297.68 288.58,281.98 289.10,287.52 289.62,303.83 290.13,297.94 290.65,310.96 291.17,299.30 291.68,309.73 292.20,313.94 292.72,296.54 293.23,314.50 293.75,291.48 294.27,303.36 294.78,276.16 295.30,303.74 295.82,289.07 296.33,313.85 296.85,293.89 297.37,299.38 297.88,326.15 298.40,290.77 298.92,318.53 299.43,298.06 299.95,302.47 300.47,291.06 300.98,320.87 301.50,301.79 302.02,297.84 302.53,321.04 303.05,289.51 303.57,316.22 304.08,277.90 304.60,337.34 305.12,285.25 305.63,324.12 306.15,302.67 306.67,308.42 307.18,281.11 307.70,311.25 308.22,295.96 308.73,303.61 309.25,285.24 309.77,303.78 310.28,296.11 310.80,306.55 311.32,313.46 311.83,289.65 312.35,307.44 312.87,313.92 313.38,317.01 313.90,296.87 314.42,310.62 314.93,291.06 315.45,315.82 315.97,276.88 316.48,313.94 317.00,304.03 317.52,327.65 318.03,321.48 318.55,275.78 319.07,281.79 319.58,300.79 320.10,291.81 320.62,319.72 321.13,276.61 321.65,309.35 322.17,281.90 322.68,299.74 323.20,287.31 323.72,303.96 324.23,289.03 324.75,326.99 325.27,299.18 325.78,275.82 326.30,328.16 326.82,319.98 327.33,288.54 327.85,310.59 328.37,302.92 328.88,323.29 329.40,300.58 329.92,316.15 330.43,298.18 330.95,318.05 331.47,304.11 331.98,283.05 332.50,311.08 333.02,270.93 333.53,310.79 334.05,284.27 334.57,322.17 335.08,300.84 335.60,294.32 336.12,316.28 336.63,305.04 337.15,266.41 337.67,320.00 338.18,284.53 338.70,307.41 339.22,282.98 339.73,322.47 340.25,287.50 340.77,309.36 341.28,294.58 341.80,316.54 342.32,320.96 342.83,287.60 343.35,316.24 343.87,288.21 344.38,303.61 344.90,293.44 345.42,313.50 345.93,303.17 346.45,317.68 346.97,278.56 347.48,307.01 348.00,291.16 348.52,285.29 349.03,287.70 349.55,327.43 350.07,303.14 350.58,267.50 351.10,274.75 351.62,264.22 352.13,313.68 352.65,278.17 353.17,286.35 353.68,321.56 354.20,293.97 354.72,304.20 355.23,291.46 355.75,276.47 356.27,304.74 356.78,294.51 357.30,290.03 357.82,318.05 358.33,272.14 358.85,307.06 359.37,294.11 359.88,291.52 360.40,300.80 360.92,275.36 361.43,326.38 361.95,274.71 362.47,322.18 362.98,295.44 363.50,306.61 364.02,315.24 364.53,274.45 365.05,312.44 365.57,280.12 366.08,329.45 366.60,333.45 367.12,294.55 367.63,284.94 368.15,318.31 368.67,304.84 369.18,306.48 369.70,287.31 370.22,305.23 370.73,283.47 371.25,304.83 371.77,292.27 372.28,296.79 372.80,287.80 373.32,301.09 373.83,320.26 374.35,280.24 374.87,315.59 375.38,326.24 375.90,298.05 376.42,310.90 376.93,287.67 377.45,327.10 377.97,317.69 378.48,313.62 379.00,281.54 379.52,297.38 380.03,310.38 380.55,278.23 381.07,312.15 381.58,317.15 382.10,298.89 382.62,297.26 383.13,317.85 383.65,281.26 384.17,325.63 384.68,294.42 385.20,316.30 385.72,276.39 386.23,323.94 386.75,282.82 387.27,313.65 387.78,316.08 388.30,283.55 388.82,312.70 389.33,280.48 389.85,304.76 390.37,293.83 390.88,301.87 391.40,283.84 391.92,313.00 392.43,288.28 392.95,308.02 393.47,287.41 393.98,304.45 394.50,325.17 395.02,306.62 395.53,306.09 396.05,286.96 396.57,319.48 397.08,286.92 397.60,294.65 398.12,298.57 398.63,332.74 399.15,289.60 399.67,269.39 400.18,301.76 400.70,294.50 401.22,310.80 401.73,289.66 402.25,283.10 402.77,304.05 403.28,290.42 403.80,308.69 404.32,273.44 404.83,295.12 405.35,307.19 405.87,284.75 406.38,282.87 406.90,311.36 407.42,292.17 407.93,314.69 408.45,283.19 408.97,320.48 409.48,295.76 410.00,314.97 410.52,298.83 411.03,291.55 411.55,300.66 412.07,290.11 412.58,303.43 413.10,283.55 413.62,286.82 414.13,328.72 414.65,301.91 415.17,280.38 415.68,292.77 416.20,316.52 416.72,298.88 417.23,324.81 417.75,290.74 418.27,314.51 418.78,311.19 419.30,280.06 419.82,300.96 420.33,329.60 420.85,271.42 421.37,317.80 421.88,306.19 422.40,308.86 422.92,283.72 423.43,312.89 423.95,292.46 424.47,324.54 424.98,282.35 425.50,317.56 426.02,321.02 426.53,287.80 427.05,317.06 427.57,288.03 428.08,310.18 428.60,272.79 429.12,304.93 429.63,309.34 430.15,280.85 430.67,331.60 431.18,312.68 431.70,323.64 432.22,274.01 432.73,325.32 433.25,267.37 433.77,297.52 434.28,324.59 434.80,284.31 435.32,321.42 435.83,292.08 436.35,301.55 436.87,297.83 437.38,321.61 437.90,286.62 438.42,304.89 438.93,287.05 439.45,301.28 439.97,297.22 440.48,311.77 441.00,321.55 441.52,290.58 442.03,316.15 442.55,285.61 443.07,297.18 443.58,285.67 444.10,286.45 444.62,317.19 445.13,301.09 445.65,300.01 446.17,296.12 446.68,304.70 447.20,283.74 447.72,292.01 448.23,301.29 448.75,322.98 449.27,300.40 449.78,288.19 450.30,321.72 450.82,286.19 451.33,313.03 451.85,318.33 452.37,304.70 452.88,298.22 453.40,328.95 453.92,274.46 454.43,322.60 454.95,284.15 455.47,305.26 455.98,326.40 456.50,294.26 457.02,309.83 457.53,320.03 458.05,302.92 458.57,279.43 459.08,310.70 459.60,272.97 460.12,280.95 460.63,306.21 461.15,281.78 461.67,320.02 462.18,315.07 462.70,316.92 463.22,294.45 463.73,319.26 464.25,283.22 464.77,271.80 465.28,320.80 465.80,294.60 466.32,319.65 466.83,293.94 467.35,307.30 467.87,290.80 468.38,308.18 468.90,293.17 469.42,310.84 469.93,287.85 470.45,312.62 470.97,291.11 471.48,281.11 472.00,319.97 472.52,293.60 473.03,300.11 473.55,316.59 474.07,317.22 474.58,288.40 475.10,318.79 475.62,281.99 476.13,304.24 476.65,301.71 477.17,291.64 477.68,303.01 478.20,293.23 478.72,313.56 479.23,276.07 479.75,316.17 480.27,292.21 480.78,316.52 481.30,312.41 481.82,311.09 482.33,292.94 482.85,301.96 483.37,282.10 483.88,318.26 484.40,277.29 484.92,326.83 485.43,308.29 485.95,287.59 486.47,307.95 486.98,289.38 487.50,325.47 488.02,280.10 488.53,298.54 489.05,321.13 489.57,286.35 490.08,314.08 490.60,295.55 491.12,314.50 491.63,287.21 492.15,314.88 492.67,285.08 493.18,301.04 493.70,310.82 494.22,328.83 494.73,274.14 495.25,322.23 495.77,269.35 496.28,319.27 496.80,321.26 497.32,283.36 497.83,310.84 498.35,307.69 498.87,300.94 499.38,312.37 499.90,302.03 500.42,309.22 500.93,283.23 501.45,302.62 501.97,276.73 502.48,284.75 503.00,306.22 503.52,312.86 504.03,277.96 504.55,290.50 505.07,320.29 505.58,300.84 506.10,289.79 506.62,316.99 507.13,297.77 507.65,289.59 508.17,324.90 508.68,291.01 509.20,306.31 509.72,298.61 510.23,292.64 510.75,304.26 511.27,293.83 511.78,316.82 512.30,309.10 512.82,300.73 513.33,285.36 513.85,324.46 514.37,282.52 514.88,315.93 515.40,314.77 515.92,296.77 516.43,315.59 516.95,275.39 517.47,290.78 517.98,307.73 518.50,298.65 519.02,300.40 519.53,289.64 520.05,317.93 520.57,287.13 521.08,328.60 521.60,280.58 522.12,289.24 522.63,304.47 523.15,281.58 523.67,303.41 524.18,311.42 524.70,288.17 525.22,323.73 525.73,276.20 526.25,314.99 526.77,297.20 527.28,309.47 527.80,287.20 528.32,316.71 528.83,280.68 529.35,311.26 529.87,295.98 530.38,283.20 530.90,330.09 531.42,304.51 531.93,293.22 532.45,313.95 532.97,276.00 533.48,315.66 534.00,285.34 534.52,319.96 535.03,296.75 535.55,311.81 536.07,293.88 536.58,314.41 537.10,283.17 537.62,308.67 538.13,295.40 538.65,299.70 539.17,288.40 539.68,316.12 540.20,298.23 540.72,306.54 541.23,296.81 541.75,309.31 542.27,312.99 542.78,283.90 543.30,315.36 543.82,289.25 544.33,311.51 544.85,302.85 545.37,296.37 545.88,319.14 546.40,310.90 546.92,280.21 547.43,307.84 547.95,306.88 548.47,312.73 548.98,294.16 549.50,311.20 550.02,288.90 550.53,316.67 551.05,282.35 551.57,317.19 552.08,288.56 552.60,300.09 553.12,321.49 553.63,276.96 554.15,276.19 554.67,323.79 555.18,280.50 555.70,311.90 556.22,278.74 556.73,310.68 557.25,284.57 557.77,331.87 558.28,301.46 558.80,327.63 559.32,288.30 559.83,299.68 560.35,322.88 560.87,289.32 561.38,317.58 561.90,279.62 562.42,319.45 562.93,317.86 563.45,285.64 563.97,311.50 564.48,283.50 565.00,305.90 565.52,284.71 566.03,301.15 566.55,290.18 567.07,282.38 567.58,322.69 568.10,298.23 568.62,317.13 569.13,279.87 569.65,346.18 570.17,281.77 570.68,324.72 571.20,288.96 571.72,337.24 572.23,283.55 572.75,315.42 573.27,279.80 573.78,303.56 574.30,293.12 574.82,309.21 575.33,296.98 575.85,320.20 576.37,287.72 576.88,338.21 577.40,280.65 577.92,310.28 578.43,282.85 578.95,318.13 579.47,316.95 579.98,316.40 580.50,286.05 581.02,311.26 581.53,284.99 582.05,327.29 582.57,285.33 583.08,309.34 583.60,297.93 584.12,288.29 584.63,316.40 585.15,288.79 585.67,327.06 586.18,274.48 586.70,312.03 587.22,282.41 587.73,324.78 588.25,280.17 588.77,313.86 589.28,294.42 589.80,276.71 590.32,313.08 590.83,289.55 591.35,304.57 591.87,331.41 592.38,311.71 592.90,319.77 593.42,290.35 593.93,303.85 594.45,290.22 594.97,283.06 595.48,318.26 596.00,289.44 596.52,318.24 597.03,289.90 597.55,309.87 598.07,316.82 598.58,300.34 599.10,304.58 599.62,267.31 600.13,303.12 600.65,293.52 601.17,319.40 601.68,289.05 602.20,280.60 602.72,308.32 603.23,282.19 603.75,322.50 604.27,337.47 604.78,323.21 605.30,298.30 605.82,317.97 606.33,285.58 606.85,299.12 607.37,312.24 607.88,273.54 608.40,308.30 608.92,299.73 609.43,305.09 609.95,298.41 610.47,295.75 610.98,287.97 611.50,319.62 612.02,281.62 612.53,298.09 613.05,293.87 613.57,321.21 614.08,317.01 614.60,307.35 615.12,301.05 615.63,305.57 616.15,301.21" stroke="#ff0000"/>
</g>
<g stroke="#000" stroke-width="0.69" fill="none">
<line x1="100.50" y1="540.5" x2="100.50" y2="534.40"/>
<line x1="100.50" y1="60.5" x2="100.50" y2="66.60"/>
<line x1="203.50" y1="540.5" x2="203.50" y2="534.40"/>
<line x1="203.50" y1="60.5" x2="203.50" y2="66.60"/>
<line x1="307.50" y1="540.5" x2="307.50" y2="534.40"/>
<line x1="307.50" y1="60.5" x2="307.50" y2="66.60"/>
<line x1="410.50" y1="540.5" x2="410.50" y2="534.40"/>
<line x1="410.50" y1="60.5" x2="410.50" y2="66.60"/>
<line x1="513.50" y1="540.5" x2="513.50" y2="534.40"/>
<line x1="513.50" y1="60.5" x2="513.50" y2="66.60"/>
<line x1="617.50" y1="540.5" x2="617.50" y2="534.40"/>
<line x1="617.50" y1="60.5" x2="617.50" y2="66.60"/>
<line x1="720.50" y1="540.5" x2="720.50" y2="534.40"/>
<line x1="720.50" y1="60.5" x2="720.50" y2="66.60"/>
<line x1="100.5" y1="540.50" x2="106.60" y2="540.50"/>
<line x1="720.5" y1="540.50" x2="714.40" y2="540.50"/>
<line x1="100.5" y1="480.50" x2="106.60" y2="480.50"/>
<line x1="720.5" y1="480.50" x2="714.40" y2="480.50"/>
<line x1="100.5" y1="420.50" x2="106.60" y2="420.50"/>
<line x1="720.5" y1="420.50" x2="714.40" y2="420.50"/>
<line x1="100.5" y1="360.50" x2="106.60" y2="360.50"/>
<line x1="720.5" y1="360.50" x2="714.40" y2="360.50"/>
<line x1="100.5" y1="300.50" x2="106.60" y2="300.50"/>
<line x1="720.5" y1="300.50" x2="714.40" y2="300.50"/>
<line x1="100.5" y1="240.50" x2="106.60" y2="240.50"/>
<line x1="720.5" y1="240.50" x2="714.40" y2="240.50"/>
<line x1="100.5" y1="180.50" x2="106.60" y2="180.50"/>
<line x1="720.5" y1="180.50" x2="714.40" y2="180.50"/>
<line x1="100.5" y1="120.50" x2="106.60" y2="120.50"/>
<line x1="720.5" y1="120.50" x2="714.40" y2="120.50"/>
<line x1="100.5" y1="60.50" x2="106.60" y2="60.50"/>
<line x1="720.5" y1="60.50" x2="714.40" y2="60.50"/>
</g>
<rect x="100.5" y="60.5" width="620" height="480" stroke="#000" stroke-width="1" fill="none"/>
<g>
<text x="100.00" y="559.60" font-size="17.90" text-anchor="middle" textLength="10.30" lengthAdjust="spacingAndGlyphs">0</text>
<text x="203.33" y="559.60" font-size="17.90" text-anchor="middle" textLength="30.90" lengthAdjust="spacingAndGlyphs">200</text>
<text x="306.67" y="559.60" font-size="17.90" text-anchor="middle" textLength="30.90" lengthAdjust="spacingAndGlyphs">400</text>
<text x="410.00" y="559.60" font-size="17.90" text-anchor="middle" textLength="30.90" lengthAdjust="spacingAndGlyphs">600</text>
<text x="513.33" y="559.60" font-size="17.90" text-anchor="middle" textLength="30.90" lengthAdjust="spacingAndGlyphs">800</text>
<text x="616.67" y="559.60" font-size="17.90" text-anchor="middle" textLength="41.20" lengthAdjust="spacingAndGlyphs">1000</text>
<text x="720.00" y="559.60" font-size="17.90" text-anchor="middle" textLength="41.20" lengthAdjust="spacingAndGlyphs">1200</text>
<text x="95.60" y="544.90" font-size="17.90" text-anchor="end" textLength="34.60" lengthAdjust="spacingAndGlyphs">−20</text>
<text x="95.60" y="484.90" font-size="17.90" text-anchor="end" textLength="34.60" lengthAdjust="spacingAndGlyphs">−15</text>
<text x="95.60" y="424.90" font-size="17.90" text-anchor="end" textLength="34.60" lengthAdjust="spacingAndGlyphs">−10</text>
<text x="95.60" y="364.90" font-size="17.90" text-anchor="end" textLength="24.30" lengthAdjust="spacingAndGlyphs">−5</text>
<text x="95.60" y="304.90" font-size="17.90" text-anchor="end" textLength="10.30" lengthAdjust="spacingAndGlyphs">0</text>
<text x="95.60" y="244.90" font-size="17.90" text-anchor="end" textLength="10.30" lengthAdjust="spacingAndGlyphs">5</text>
<text x="95.60" y="184.90" font-size="17.90" text-anchor="end" textLength="20.60" lengthAdjust="spacingAndGlyphs">10</text>
<text x="95.60" y="124.90" font-size="17.90" text-anchor="end" textLength="20.60" lengthAdjust="spacingAndGlyphs">15</text>
<text x="95.60" y="64.90" font-size="17.90" text-anchor="end" textLength="20.60" lengthAdjust="spacingAndGlyphs">20</text>
</g>
<text x="330.50" y="584.00" font-size="18.30" textLength="160.00" lengthAdjust="spacingAndGlyphs">Discretization Point</text>
<text transform="translate(51.00,381.80) rotate(-90)" font-size="18.30" textLength="164.00" lengthAdjust="spacingAndGlyphs">Constraint Violation</text>
<rect x="592.5" y="70.5" width="118" height="296" fill="#fff" stroke="#000" stroke-width="1"/>
<line x1="605.75" y1="86.40" x2="635.25" y2="86.40" stroke="#0000ff" stroke-width="1.39"/>
<text x="655.50" y="93.00" font-size="19.50" textLength="47.00" lengthAdjust="spacingAndGlyphs">q0(t)</text>
<line x1="605.75" y1="115.36" x2="635.25" y2="115.36" stroke="#008000" stroke-width="1.39"/>
<text x="655.50" y="121.96" font-size="19.50" textLength="47.00" lengthAdjust="spacingAndGlyphs">q1(t)</text>
<line x1="605.75" y1="144.32" x2="635.25" y2="144.32" stroke="#ff0000" stroke-width="1.39"/>
<text x="655.50" y="150.92" font-size="19.50" textLength="47.00" lengthAdjust="spacingAndGlyphs">q2(t)</text>
<line x1="605.75" y1="173.28" x2="635.25" y2="173.28" stroke="#00bfbf" stroke-width="1.39"/>
<text x="655.50" y="179.88" font-size="19.50" textLength="47.00" lengthAdjust="spacingAndGlyphs">q3(t)</text>
<line x1="605.75" y1="202.24" x2="635.25" y2="202.24" stroke="#bf00bf" stroke-width="1.39"/>
<text x="655.50" y="208.84" font-size="19.50" textLength="47.00" lengthAdjust="spacingAndGlyphs">q4(t)</text>
<line x1="605.75" y1="231.20" x2="635.25" y2="231.20" stroke="#bfbf00" stroke-width="1.39"/>
<text x="655.50" y="237.80" font-size="19.50" textLength="47.00" lengthAdjust="spacingAndGlyphs">u0(t)</text>
<line x1="605.75" y1="260.16" x2="635.25" y2="260.16" stroke="#000000" stroke-width="1.39"/>
<text x="655.50" y="266.76" font-size="19.50" textLength="47.00" lengthAdjust="spacingAndGlyphs">u1(t)</text>
<line x1="605.75" y1="289.12" x2="635.25" y2="289.12" stroke="#0000ff" stroke-width="1.39"/>
<text x="655.50" y="295.72" font-size="19.50" textLength="47.00" lengthAdjust="spacingAndGlyphs">u2(t)</text>
<line x1="605.75" y1="318.08" x2="635.25" y2="318.08" stroke="#008000" stroke-width="1.39"/>
<text x="655.50" y="324.68" font-size="19.50" textLength="47.00" lengthAdjust="spacingAndGlyphs">u3(t)</text>
<line x1="605.75" y1="347.04" x2="635.25" y2="347.04" stroke="#ff0000" stroke-width="1.39"/>
<text x="655.50" y="353.64" font-size="19.50" textLength="47.00" lengthAdjust="spacingAndGlyphs">u4(t)</text>
</svg>
</body></html>
